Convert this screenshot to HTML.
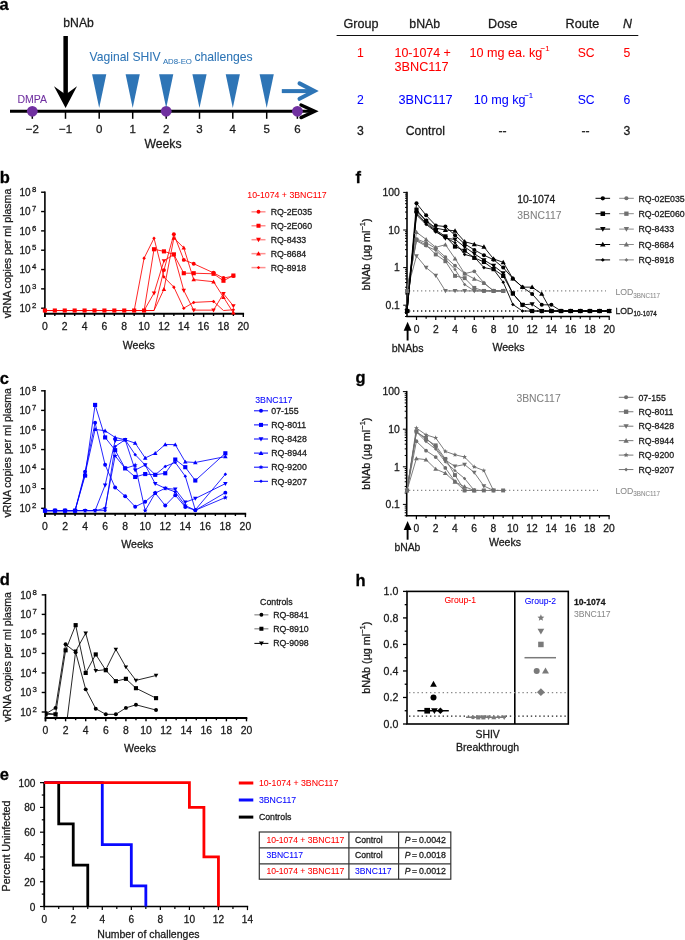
<!DOCTYPE html><html><head><meta charset="utf-8"><title>Figure</title><style>html,body{margin:0;padding:0;background:#fff;}svg{display:block;}text{font-family:"Liberation Sans",sans-serif;stroke:currentColor;stroke-width:0.28px;} .w{will-change:transform;width:685px;height:940px;}</style></head><body><div class="w">
<svg width="685" height="940" viewBox="0 0 685 940">
<rect x="0" y="0" width="685" height="940" fill="#fff"/>
<text x="-0.6" y="9.6" font-size="16.5" fill="#000000" color="#000000" font-weight="bold">a</text>
<line x1="10" y1="111.3" x2="313" y2="111.3" stroke="#000000" stroke-width="3"/>
<polyline points="301,105 314.6,111.3 301,117.6" fill="none" stroke="#000000" stroke-width="3.4" stroke-linecap="round" stroke-linejoin="miter"/>
<line x1="32.3" y1="111" x2="32.3" y2="118.8" stroke="#000000" stroke-width="1.5"/>
<text x="32.3" y="132.9" font-size="11.5" fill="#1a1a1a" color="#1a1a1a" text-anchor="middle">−2</text>
<line x1="65.5" y1="111" x2="65.5" y2="118.8" stroke="#000000" stroke-width="1.5"/>
<text x="65.5" y="132.9" font-size="11.5" fill="#1a1a1a" color="#1a1a1a" text-anchor="middle">−1</text>
<line x1="99.2" y1="111" x2="99.2" y2="118.8" stroke="#000000" stroke-width="1.5"/>
<text x="99.2" y="132.9" font-size="11.5" fill="#1a1a1a" color="#1a1a1a" text-anchor="middle">0</text>
<line x1="132.7" y1="111" x2="132.7" y2="118.8" stroke="#000000" stroke-width="1.5"/>
<text x="132.7" y="132.9" font-size="11.5" fill="#1a1a1a" color="#1a1a1a" text-anchor="middle">1</text>
<line x1="166.2" y1="111" x2="166.2" y2="118.8" stroke="#000000" stroke-width="1.5"/>
<text x="166.2" y="132.9" font-size="11.5" fill="#1a1a1a" color="#1a1a1a" text-anchor="middle">2</text>
<line x1="199.5" y1="111" x2="199.5" y2="118.8" stroke="#000000" stroke-width="1.5"/>
<text x="199.5" y="132.9" font-size="11.5" fill="#1a1a1a" color="#1a1a1a" text-anchor="middle">3</text>
<line x1="232.8" y1="111" x2="232.8" y2="118.8" stroke="#000000" stroke-width="1.5"/>
<text x="232.8" y="132.9" font-size="11.5" fill="#1a1a1a" color="#1a1a1a" text-anchor="middle">4</text>
<line x1="266.7" y1="111" x2="266.7" y2="118.8" stroke="#000000" stroke-width="1.5"/>
<text x="266.7" y="132.9" font-size="11.5" fill="#1a1a1a" color="#1a1a1a" text-anchor="middle">5</text>
<line x1="297.4" y1="111" x2="297.4" y2="118.8" stroke="#000000" stroke-width="1.5"/>
<text x="297.4" y="132.9" font-size="11.5" fill="#1a1a1a" color="#1a1a1a" text-anchor="middle">6</text>
<text x="163" y="147.8" font-size="12.2" fill="#1a1a1a" color="#1a1a1a" text-anchor="middle">Weeks</text>
<circle cx="32.3" cy="111.3" r="5.4" fill="#7030a0"/>
<circle cx="166.2" cy="111.3" r="5.4" fill="#7030a0"/>
<circle cx="297.4" cy="111.3" r="5.4" fill="#7030a0"/>
<text x="17.5" y="102.6" font-size="10.5" fill="#7030a0" color="#7030a0" style="stroke-width:0.06px">DMPA</text>
<rect x="63.4" y="36" width="4.5" height="62" fill="#000000"/>
<polygon points="54,86.3 65.6,94.6 77,86.3 65.6,108" fill="#000000"/>
<text x="63.3" y="26.8" font-size="12.2" fill="#1a1a1a" color="#1a1a1a">bNAb</text>
<polygon points="92.1,74.2 106.3,74.2 99.2,108" fill="#2e75b6"/>
<polygon points="125.6,74.2 139.8,74.2 132.7,108" fill="#2e75b6"/>
<polygon points="159.1,74.2 173.3,74.2 166.2,108" fill="#2e75b6"/>
<polygon points="192.4,74.2 206.6,74.2 199.5,108" fill="#2e75b6"/>
<polygon points="225.7,74.2 239.9,74.2 232.8,108" fill="#2e75b6"/>
<polygon points="259.6,74.2 273.8,74.2 266.7,108" fill="#2e75b6"/>
<line x1="281.8" y1="91.1" x2="312" y2="91.1" stroke="#2e75b6" stroke-width="4"/>
<polyline points="299.5,83.4 314.4,91.1 299.5,98.8" fill="none" stroke="#2e75b6" stroke-width="4" stroke-linecap="round" stroke-linejoin="miter"/>
<text x="89.6" y="60.7" font-size="12.1" fill="#2e75b6" color="#2e75b6" style="stroke-width:0.06px">Vaginal SHIV</text>
<text x="162.9" y="64.2" font-size="7.8" fill="#2e75b6" color="#2e75b6" style="stroke-width:0.06px">AD8-EO</text>
<text x="194.4" y="60.7" font-size="12.2" fill="#2e75b6" color="#2e75b6" style="stroke-width:0.06px">challenges</text>
<text x="343.4" y="27.7" font-size="12.6" fill="#1a1a1a" color="#1a1a1a">Group</text>
<text x="424.7" y="27.7" font-size="12.3" fill="#1a1a1a" color="#1a1a1a" text-anchor="middle">bNAb</text>
<text x="502.8" y="27.7" font-size="12.6" fill="#1a1a1a" color="#1a1a1a" text-anchor="middle">Dose</text>
<text x="582.4" y="27.7" font-size="12.6" fill="#1a1a1a" color="#1a1a1a" text-anchor="middle">Route</text>
<text x="627.6" y="27.7" font-size="12.4" fill="#1a1a1a" color="#1a1a1a" text-anchor="middle" font-style="italic">N</text>
<line x1="336.6" y1="35.5" x2="638.3" y2="35.5" stroke="#111" stroke-width="1"/>
<text x="360.5" y="56.5" font-size="12.2" fill="#ff0000" color="#ff0000" style="stroke-width:0.06px" text-anchor="middle">1</text>
<text x="394.5" y="56.5" font-size="12.45" fill="#ff0000" color="#ff0000" style="stroke-width:0.06px">10-1074 +</text>
<text x="394.5" y="71" font-size="12.7" fill="#ff0000" color="#ff0000" style="stroke-width:0.06px">3BNC117</text>
<text x="469.4" y="56.5" font-size="12.6" fill="#ff0000" color="#ff0000" style="stroke-width:0.06px">10 mg ea. kg</text>
<text x="540.6" y="51" font-size="7.8" fill="#ff0000" color="#ff0000" style="stroke-width:0.06px">−1</text>
<text x="586.2" y="56.5" font-size="12.2" fill="#ff0000" color="#ff0000" style="stroke-width:0.06px" text-anchor="middle">SC</text>
<text x="627" y="56.5" font-size="12.2" fill="#ff0000" color="#ff0000" style="stroke-width:0.06px" text-anchor="middle">5</text>
<text x="360.5" y="103.6" font-size="12.2" fill="#0000ff" color="#0000ff" style="stroke-width:0.06px" text-anchor="middle">2</text>
<text x="425.5" y="103.6" font-size="12.7" fill="#0000ff" color="#0000ff" style="stroke-width:0.06px" text-anchor="middle">3BNC117</text>
<text x="473.8" y="103.6" font-size="12.6" fill="#0000ff" color="#0000ff" style="stroke-width:0.06px">10 mg kg</text>
<text x="524.2" y="98.1" font-size="7.8" fill="#0000ff" color="#0000ff" style="stroke-width:0.06px">−1</text>
<text x="586.2" y="103.6" font-size="12.2" fill="#0000ff" color="#0000ff" style="stroke-width:0.06px" text-anchor="middle">SC</text>
<text x="627" y="103.6" font-size="12.2" fill="#0000ff" color="#0000ff" style="stroke-width:0.06px" text-anchor="middle">6</text>
<text x="360.5" y="134.9" font-size="12.2" fill="#1a1a1a" color="#1a1a1a" text-anchor="middle">3</text>
<text x="425.3" y="134.9" font-size="12.2" fill="#1a1a1a" color="#1a1a1a" text-anchor="middle">Control</text>
<text x="502.5" y="134.9" font-size="12.2" fill="#1a1a1a" color="#1a1a1a" text-anchor="middle">--</text>
<text x="585.5" y="134.9" font-size="12.2" fill="#1a1a1a" color="#1a1a1a" text-anchor="middle">--</text>
<text x="627" y="134.9" font-size="12.2" fill="#1a1a1a" color="#1a1a1a" text-anchor="middle">3</text>
<text x="-0.3" y="182.6" font-size="16.5" fill="#000000" color="#000000" font-weight="bold">b</text>
<line x1="44.9" y1="191.42" x2="44.9" y2="317.1" stroke="#000000" stroke-width="1.6"/>
<line x1="44.1" y1="313.8" x2="244.1" y2="313.8" stroke="#000000" stroke-width="1.9"/>
<line x1="41.1" y1="308.2" x2="44.9" y2="308.2" stroke="#000000" stroke-width="1.4"/>
<text x="30.7" y="312.1" font-size="10" fill="#1a1a1a" color="#1a1a1a" text-anchor="end">10</text>
<text x="32" y="307.9" font-size="7.8" fill="#1a1a1a" color="#1a1a1a">2</text>
<line x1="41.1" y1="288.87" x2="44.9" y2="288.87" stroke="#000000" stroke-width="1.4"/>
<text x="30.7" y="292.77" font-size="10" fill="#1a1a1a" color="#1a1a1a" text-anchor="end">10</text>
<text x="32" y="288.57" font-size="7.8" fill="#1a1a1a" color="#1a1a1a">3</text>
<line x1="41.1" y1="269.54" x2="44.9" y2="269.54" stroke="#000000" stroke-width="1.4"/>
<text x="30.7" y="273.44" font-size="10" fill="#1a1a1a" color="#1a1a1a" text-anchor="end">10</text>
<text x="32" y="269.24" font-size="7.8" fill="#1a1a1a" color="#1a1a1a">4</text>
<line x1="41.1" y1="250.21" x2="44.9" y2="250.21" stroke="#000000" stroke-width="1.4"/>
<text x="30.7" y="254.11" font-size="10" fill="#1a1a1a" color="#1a1a1a" text-anchor="end">10</text>
<text x="32" y="249.91" font-size="7.8" fill="#1a1a1a" color="#1a1a1a">5</text>
<line x1="41.1" y1="230.88" x2="44.9" y2="230.88" stroke="#000000" stroke-width="1.4"/>
<text x="30.7" y="234.78" font-size="10" fill="#1a1a1a" color="#1a1a1a" text-anchor="end">10</text>
<text x="32" y="230.58" font-size="7.8" fill="#1a1a1a" color="#1a1a1a">6</text>
<line x1="41.1" y1="211.55" x2="44.9" y2="211.55" stroke="#000000" stroke-width="1.4"/>
<text x="30.7" y="215.45" font-size="10" fill="#1a1a1a" color="#1a1a1a" text-anchor="end">10</text>
<text x="32" y="211.25" font-size="7.8" fill="#1a1a1a" color="#1a1a1a">7</text>
<line x1="41.1" y1="192.22" x2="44.9" y2="192.22" stroke="#000000" stroke-width="1.4"/>
<text x="30.7" y="196.12" font-size="10" fill="#1a1a1a" color="#1a1a1a" text-anchor="end">10</text>
<text x="32" y="191.92" font-size="7.8" fill="#1a1a1a" color="#1a1a1a">8</text>
<line x1="44.9" y1="313.8" x2="44.9" y2="317.1" stroke="#000000" stroke-width="1.4"/>
<text x="44.9" y="329.9" font-size="10.4" fill="#1a1a1a" color="#1a1a1a" text-anchor="middle">0</text>
<line x1="54.82" y1="313.8" x2="54.82" y2="316" stroke="#000000" stroke-width="1.4"/>
<line x1="64.74" y1="313.8" x2="64.74" y2="317.1" stroke="#000000" stroke-width="1.4"/>
<text x="64.74" y="329.9" font-size="10.4" fill="#1a1a1a" color="#1a1a1a" text-anchor="middle">2</text>
<line x1="74.66" y1="313.8" x2="74.66" y2="316" stroke="#000000" stroke-width="1.4"/>
<line x1="84.58" y1="313.8" x2="84.58" y2="317.1" stroke="#000000" stroke-width="1.4"/>
<text x="84.58" y="329.9" font-size="10.4" fill="#1a1a1a" color="#1a1a1a" text-anchor="middle">4</text>
<line x1="94.5" y1="313.8" x2="94.5" y2="316" stroke="#000000" stroke-width="1.4"/>
<line x1="104.42" y1="313.8" x2="104.42" y2="317.1" stroke="#000000" stroke-width="1.4"/>
<text x="104.42" y="329.9" font-size="10.4" fill="#1a1a1a" color="#1a1a1a" text-anchor="middle">6</text>
<line x1="114.34" y1="313.8" x2="114.34" y2="316" stroke="#000000" stroke-width="1.4"/>
<line x1="124.26" y1="313.8" x2="124.26" y2="317.1" stroke="#000000" stroke-width="1.4"/>
<text x="124.26" y="329.9" font-size="10.4" fill="#1a1a1a" color="#1a1a1a" text-anchor="middle">8</text>
<line x1="134.18" y1="313.8" x2="134.18" y2="316" stroke="#000000" stroke-width="1.4"/>
<line x1="144.1" y1="313.8" x2="144.1" y2="317.1" stroke="#000000" stroke-width="1.4"/>
<text x="144.1" y="329.9" font-size="10.4" fill="#1a1a1a" color="#1a1a1a" text-anchor="middle">10</text>
<line x1="154.02" y1="313.8" x2="154.02" y2="316" stroke="#000000" stroke-width="1.4"/>
<line x1="163.94" y1="313.8" x2="163.94" y2="317.1" stroke="#000000" stroke-width="1.4"/>
<text x="163.94" y="329.9" font-size="10.4" fill="#1a1a1a" color="#1a1a1a" text-anchor="middle">12</text>
<line x1="173.86" y1="313.8" x2="173.86" y2="316" stroke="#000000" stroke-width="1.4"/>
<line x1="183.78" y1="313.8" x2="183.78" y2="317.1" stroke="#000000" stroke-width="1.4"/>
<text x="183.78" y="329.9" font-size="10.4" fill="#1a1a1a" color="#1a1a1a" text-anchor="middle">14</text>
<line x1="193.7" y1="313.8" x2="193.7" y2="316" stroke="#000000" stroke-width="1.4"/>
<line x1="203.62" y1="313.8" x2="203.62" y2="317.1" stroke="#000000" stroke-width="1.4"/>
<text x="203.62" y="329.9" font-size="10.4" fill="#1a1a1a" color="#1a1a1a" text-anchor="middle">16</text>
<line x1="213.54" y1="313.8" x2="213.54" y2="316" stroke="#000000" stroke-width="1.4"/>
<line x1="223.46" y1="313.8" x2="223.46" y2="317.1" stroke="#000000" stroke-width="1.4"/>
<text x="223.46" y="329.9" font-size="10.4" fill="#1a1a1a" color="#1a1a1a" text-anchor="middle">18</text>
<line x1="233.38" y1="313.8" x2="233.38" y2="316" stroke="#000000" stroke-width="1.4"/>
<line x1="243.3" y1="313.8" x2="243.3" y2="317.1" stroke="#000000" stroke-width="1.4"/>
<text x="243.3" y="329.9" font-size="10.4" fill="#1a1a1a" color="#1a1a1a" text-anchor="middle">20</text>
<text x="138.8" y="349" font-size="10.6" fill="#1a1a1a" color="#1a1a1a" text-anchor="middle">Weeks</text>
<text transform="translate(10.9,253.51) rotate(-90)" font-size="10.55" fill="#1a1a1a" color="#1a1a1a" text-anchor="middle">vRNA copies per ml plasma</text>
<polyline points="44.9,310.52 54.82,310.52 64.74,310.52 74.66,310.52 84.58,310.52 94.5,310.52 104.42,310.52 114.34,310.52 124.26,310.52 134.18,310.52 144.1,310.52 154.02,310.52 163.94,270.12 173.86,234.17 183.78,259.88 193.7,263.74 213.54,272.83 223.46,278.05 233.38,276.11" fill="none" stroke="#ff0000" stroke-width="0.85"/>
<polyline points="44.9,310.52 54.82,310.52 64.74,310.52 74.66,310.52 84.58,310.52 94.5,310.52 104.42,310.52 114.34,310.52 124.26,310.52 134.18,310.52 144.1,310.52 154.02,249.24 163.94,251.37 173.86,254.46 183.78,273.21 193.7,273.21 213.54,273.79 223.46,280.75 233.38,275.53" fill="none" stroke="#ff0000" stroke-width="0.85"/>
<polyline points="44.9,310.52 54.82,310.52 64.74,310.52 74.66,310.52 84.58,310.52 94.5,310.52 104.42,310.52 114.34,310.52 124.26,310.52 134.18,310.52 144.1,310.52 154.02,293.12 163.94,260.84 173.86,254.46 183.78,290.42 193.7,310.13 213.54,310.13 223.46,293.7 233.38,305.88" fill="none" stroke="#ff0000" stroke-width="0.85"/>
<polyline points="44.9,310.52 54.82,310.52 64.74,310.52 74.66,310.52 84.58,310.52 94.5,310.52 104.42,310.52 114.34,310.52 124.26,310.52 134.18,310.52 144.1,310.52 154.02,310.52 163.94,289.26 173.86,238.03 183.78,247.89 193.7,279.59 213.54,281.72 223.46,297.18 233.38,312.84" fill="none" stroke="#ff0000" stroke-width="0.85"/>
<polyline points="44.9,310.52 54.82,310.52 64.74,310.52 74.66,310.52 84.58,310.52 94.5,310.52 104.42,310.52 114.34,310.52 124.26,310.52 134.18,310.52 144.1,258.14 154.02,238.23 163.94,277.08 173.86,287.13 183.78,308.2 193.7,302.4 213.54,301.43 223.46,310.52 233.38,309.75" fill="none" stroke="#ff0000" stroke-width="0.85"/>
<polygon points="151.75,291.42 156.29,291.42 154.02,295.39" fill="#ff0000"/>
<polygon points="161.67,259.14 166.21,259.14 163.94,263.11" fill="#ff0000"/>
<polygon points="171.59,252.76 176.13,252.76 173.86,256.73" fill="#ff0000"/>
<polygon points="181.51,288.72 186.05,288.72 183.78,292.68" fill="#ff0000"/>
<polygon points="191.43,308.43 195.97,308.43 193.7,312.4" fill="#ff0000"/>
<polygon points="211.27,308.43 215.81,308.43 213.54,312.4" fill="#ff0000"/>
<polygon points="221.19,292 225.73,292 223.46,295.97" fill="#ff0000"/>
<polygon points="231.11,304.18 235.65,304.18 233.38,308.15" fill="#ff0000"/>
<polygon points="161.67,290.96 166.21,290.96 163.94,286.99" fill="#ff0000"/>
<polygon points="171.59,239.73 176.13,239.73 173.86,235.76" fill="#ff0000"/>
<polygon points="181.51,249.59 186.05,249.59 183.78,245.62" fill="#ff0000"/>
<polygon points="191.43,281.29 195.97,281.29 193.7,277.32" fill="#ff0000"/>
<polygon points="211.27,283.42 215.81,283.42 213.54,279.45" fill="#ff0000"/>
<polygon points="221.19,298.88 225.73,298.88 223.46,294.91" fill="#ff0000"/>
<polygon points="231.11,314.54 235.65,314.54 233.38,310.57" fill="#ff0000"/>
<polygon points="144.1,256.37 145.86,258.14 144.1,259.9 142.34,258.14" fill="#ff0000"/>
<polygon points="154.02,236.46 155.78,238.23 154.02,239.99 152.26,238.23" fill="#ff0000"/>
<polygon points="163.94,275.31 165.7,277.08 163.94,278.84 162.18,277.08" fill="#ff0000"/>
<polygon points="173.86,285.37 175.62,287.13 173.86,288.89 172.1,287.13" fill="#ff0000"/>
<polygon points="183.78,306.44 185.54,308.2 183.78,309.96 182.02,308.2" fill="#ff0000"/>
<polygon points="193.7,300.64 195.46,302.4 193.7,304.17 191.94,302.4" fill="#ff0000"/>
<polygon points="213.54,299.67 215.3,301.43 213.54,303.2 211.78,301.43" fill="#ff0000"/>
<polygon points="233.38,307.98 235.14,309.75 233.38,311.51 231.62,309.75" fill="#ff0000"/>
<circle cx="163.94" cy="270.12" r="1.97" fill="#ff0000"/>
<circle cx="173.86" cy="234.17" r="1.97" fill="#ff0000"/>
<circle cx="183.78" cy="259.88" r="1.97" fill="#ff0000"/>
<circle cx="193.7" cy="263.74" r="1.97" fill="#ff0000"/>
<circle cx="213.54" cy="272.83" r="1.97" fill="#ff0000"/>
<circle cx="223.46" cy="278.05" r="1.97" fill="#ff0000"/>
<circle cx="233.38" cy="276.11" r="1.97" fill="#ff0000"/>
<rect x="42.84" y="308.46" width="4.12" height="4.12" fill="#ff0000"/>
<rect x="52.76" y="308.46" width="4.12" height="4.12" fill="#ff0000"/>
<rect x="62.68" y="308.46" width="4.12" height="4.12" fill="#ff0000"/>
<rect x="72.6" y="308.46" width="4.12" height="4.12" fill="#ff0000"/>
<rect x="82.52" y="308.46" width="4.12" height="4.12" fill="#ff0000"/>
<rect x="92.44" y="308.46" width="4.12" height="4.12" fill="#ff0000"/>
<rect x="102.36" y="308.46" width="4.12" height="4.12" fill="#ff0000"/>
<rect x="112.28" y="308.46" width="4.12" height="4.12" fill="#ff0000"/>
<rect x="122.2" y="308.46" width="4.12" height="4.12" fill="#ff0000"/>
<rect x="132.12" y="308.46" width="4.12" height="4.12" fill="#ff0000"/>
<rect x="142.04" y="308.46" width="4.12" height="4.12" fill="#ff0000"/>
<rect x="151.96" y="247.19" width="4.12" height="4.12" fill="#ff0000"/>
<rect x="161.88" y="249.31" width="4.12" height="4.12" fill="#ff0000"/>
<rect x="171.8" y="252.4" width="4.12" height="4.12" fill="#ff0000"/>
<rect x="181.72" y="271.15" width="4.12" height="4.12" fill="#ff0000"/>
<rect x="191.64" y="271.15" width="4.12" height="4.12" fill="#ff0000"/>
<rect x="211.48" y="271.73" width="4.12" height="4.12" fill="#ff0000"/>
<rect x="221.4" y="278.69" width="4.12" height="4.12" fill="#ff0000"/>
<rect x="231.32" y="273.47" width="4.12" height="4.12" fill="#ff0000"/>
<text x="247.3" y="197.8" font-size="8.75" fill="#ff0000" color="#ff0000" style="stroke-width:0.06px">10-1074 + 3BNC117</text>
<line x1="251.5" y1="211.8" x2="265.5" y2="211.8" stroke="#ff9090" stroke-width="1.5"/>
<circle cx="258.5" cy="211.8" r="1.93" fill="#ff0000"/>
<text x="270.7" y="215" font-size="8.75" fill="#1a1a1a" color="#1a1a1a">RQ-2E035</text>
<line x1="251.5" y1="225.75" x2="265.5" y2="225.75" stroke="#ff9090" stroke-width="1.5"/>
<rect x="256.49" y="223.74" width="4.02" height="4.02" fill="#ff0000"/>
<text x="270.7" y="228.95" font-size="8.75" fill="#1a1a1a" color="#1a1a1a">RQ-2E060</text>
<line x1="251.5" y1="239.7" x2="265.5" y2="239.7" stroke="#ff9090" stroke-width="1.5"/>
<polygon points="256.04,237.86 260.96,237.86 258.5,242.16" fill="#ff0000"/>
<text x="270.7" y="242.9" font-size="8.75" fill="#1a1a1a" color="#1a1a1a">RQ-8433</text>
<line x1="251.5" y1="253.65" x2="265.5" y2="253.65" stroke="#ff9090" stroke-width="1.5"/>
<polygon points="256.04,255.5 260.96,255.5 258.5,251.19" fill="#ff0000"/>
<text x="270.7" y="256.85" font-size="8.75" fill="#1a1a1a" color="#1a1a1a">RQ-8684</text>
<line x1="251.5" y1="267.6" x2="265.5" y2="267.6" stroke="#ff9090" stroke-width="1.5"/>
<polygon points="258.5,265.88 260.22,267.6 258.5,269.32 256.78,267.6" fill="#ff0000"/>
<text x="270.7" y="270.8" font-size="8.75" fill="#1a1a1a" color="#1a1a1a">RQ-8918</text>
<text x="-0.3" y="383.7" font-size="16.5" fill="#000000" color="#000000" font-weight="bold">c</text>
<line x1="44.9" y1="390.02" x2="44.9" y2="517.1" stroke="#000000" stroke-width="1.6"/>
<line x1="44.1" y1="513.8" x2="246.2" y2="513.8" stroke="#000000" stroke-width="1.9"/>
<line x1="41.1" y1="508.3" x2="44.9" y2="508.3" stroke="#000000" stroke-width="1.4"/>
<text x="30.7" y="512.2" font-size="10" fill="#1a1a1a" color="#1a1a1a" text-anchor="end">10</text>
<text x="32" y="508" font-size="7.8" fill="#1a1a1a" color="#1a1a1a">2</text>
<line x1="41.1" y1="488.72" x2="44.9" y2="488.72" stroke="#000000" stroke-width="1.4"/>
<text x="30.7" y="492.62" font-size="10" fill="#1a1a1a" color="#1a1a1a" text-anchor="end">10</text>
<text x="32" y="488.42" font-size="7.8" fill="#1a1a1a" color="#1a1a1a">3</text>
<line x1="41.1" y1="469.14" x2="44.9" y2="469.14" stroke="#000000" stroke-width="1.4"/>
<text x="30.7" y="473.04" font-size="10" fill="#1a1a1a" color="#1a1a1a" text-anchor="end">10</text>
<text x="32" y="468.84" font-size="7.8" fill="#1a1a1a" color="#1a1a1a">4</text>
<line x1="41.1" y1="449.56" x2="44.9" y2="449.56" stroke="#000000" stroke-width="1.4"/>
<text x="30.7" y="453.46" font-size="10" fill="#1a1a1a" color="#1a1a1a" text-anchor="end">10</text>
<text x="32" y="449.26" font-size="7.8" fill="#1a1a1a" color="#1a1a1a">5</text>
<line x1="41.1" y1="429.98" x2="44.9" y2="429.98" stroke="#000000" stroke-width="1.4"/>
<text x="30.7" y="433.88" font-size="10" fill="#1a1a1a" color="#1a1a1a" text-anchor="end">10</text>
<text x="32" y="429.68" font-size="7.8" fill="#1a1a1a" color="#1a1a1a">6</text>
<line x1="41.1" y1="410.4" x2="44.9" y2="410.4" stroke="#000000" stroke-width="1.4"/>
<text x="30.7" y="414.3" font-size="10" fill="#1a1a1a" color="#1a1a1a" text-anchor="end">10</text>
<text x="32" y="410.1" font-size="7.8" fill="#1a1a1a" color="#1a1a1a">7</text>
<line x1="41.1" y1="390.82" x2="44.9" y2="390.82" stroke="#000000" stroke-width="1.4"/>
<text x="30.7" y="394.72" font-size="10" fill="#1a1a1a" color="#1a1a1a" text-anchor="end">10</text>
<text x="32" y="390.52" font-size="7.8" fill="#1a1a1a" color="#1a1a1a">8</text>
<line x1="45" y1="513.8" x2="45" y2="517.1" stroke="#000000" stroke-width="1.4"/>
<text x="45" y="529.9" font-size="10.4" fill="#1a1a1a" color="#1a1a1a" text-anchor="middle">0</text>
<line x1="55.02" y1="513.8" x2="55.02" y2="516" stroke="#000000" stroke-width="1.4"/>
<line x1="65.04" y1="513.8" x2="65.04" y2="517.1" stroke="#000000" stroke-width="1.4"/>
<text x="65.04" y="529.9" font-size="10.4" fill="#1a1a1a" color="#1a1a1a" text-anchor="middle">2</text>
<line x1="75.06" y1="513.8" x2="75.06" y2="516" stroke="#000000" stroke-width="1.4"/>
<line x1="85.08" y1="513.8" x2="85.08" y2="517.1" stroke="#000000" stroke-width="1.4"/>
<text x="85.08" y="529.9" font-size="10.4" fill="#1a1a1a" color="#1a1a1a" text-anchor="middle">4</text>
<line x1="95.1" y1="513.8" x2="95.1" y2="516" stroke="#000000" stroke-width="1.4"/>
<line x1="105.12" y1="513.8" x2="105.12" y2="517.1" stroke="#000000" stroke-width="1.4"/>
<text x="105.12" y="529.9" font-size="10.4" fill="#1a1a1a" color="#1a1a1a" text-anchor="middle">6</text>
<line x1="115.14" y1="513.8" x2="115.14" y2="516" stroke="#000000" stroke-width="1.4"/>
<line x1="125.16" y1="513.8" x2="125.16" y2="517.1" stroke="#000000" stroke-width="1.4"/>
<text x="125.16" y="529.9" font-size="10.4" fill="#1a1a1a" color="#1a1a1a" text-anchor="middle">8</text>
<line x1="135.18" y1="513.8" x2="135.18" y2="516" stroke="#000000" stroke-width="1.4"/>
<line x1="145.2" y1="513.8" x2="145.2" y2="517.1" stroke="#000000" stroke-width="1.4"/>
<text x="145.2" y="529.9" font-size="10.4" fill="#1a1a1a" color="#1a1a1a" text-anchor="middle">10</text>
<line x1="155.22" y1="513.8" x2="155.22" y2="516" stroke="#000000" stroke-width="1.4"/>
<line x1="165.24" y1="513.8" x2="165.24" y2="517.1" stroke="#000000" stroke-width="1.4"/>
<text x="165.24" y="529.9" font-size="10.4" fill="#1a1a1a" color="#1a1a1a" text-anchor="middle">12</text>
<line x1="175.26" y1="513.8" x2="175.26" y2="516" stroke="#000000" stroke-width="1.4"/>
<line x1="185.28" y1="513.8" x2="185.28" y2="517.1" stroke="#000000" stroke-width="1.4"/>
<text x="185.28" y="529.9" font-size="10.4" fill="#1a1a1a" color="#1a1a1a" text-anchor="middle">14</text>
<line x1="195.3" y1="513.8" x2="195.3" y2="516" stroke="#000000" stroke-width="1.4"/>
<line x1="205.32" y1="513.8" x2="205.32" y2="517.1" stroke="#000000" stroke-width="1.4"/>
<text x="205.32" y="529.9" font-size="10.4" fill="#1a1a1a" color="#1a1a1a" text-anchor="middle">16</text>
<line x1="215.34" y1="513.8" x2="215.34" y2="516" stroke="#000000" stroke-width="1.4"/>
<line x1="225.36" y1="513.8" x2="225.36" y2="517.1" stroke="#000000" stroke-width="1.4"/>
<text x="225.36" y="529.9" font-size="10.4" fill="#1a1a1a" color="#1a1a1a" text-anchor="middle">18</text>
<line x1="235.38" y1="513.8" x2="235.38" y2="516" stroke="#000000" stroke-width="1.4"/>
<line x1="245.4" y1="513.8" x2="245.4" y2="517.1" stroke="#000000" stroke-width="1.4"/>
<text x="245.4" y="529.9" font-size="10.4" fill="#1a1a1a" color="#1a1a1a" text-anchor="middle">20</text>
<text x="137.3" y="547.6" font-size="10.6" fill="#1a1a1a" color="#1a1a1a" text-anchor="middle">Weeks</text>
<text transform="translate(10.9,452.81) rotate(-90)" font-size="10.55" fill="#1a1a1a" color="#1a1a1a" text-anchor="middle">vRNA copies per ml plasma</text>
<polyline points="45,510.65 55.02,510.65 65.04,510.65 75.06,510.65 85.08,471.69 95.1,422.74 105.12,464.83 115.14,487.55 125.16,496.16 135.18,506.73 145.2,501.84 155.22,493.03 165.24,505.56 175.26,495.18 185.28,506.93 195.3,510.26 225.36,492.64" fill="none" stroke="#0000ff" stroke-width="0.85"/>
<polyline points="45,510.65 55.02,510.65 65.04,510.65 75.06,510.65 85.08,475.6 95.1,404.92 105.12,437.42 115.14,450.15 125.16,468.36 135.18,476.97 145.2,474.04 155.22,474.82 165.24,473.25 175.26,459.55 185.28,467.18 195.3,480.5 225.36,453.28" fill="none" stroke="#0000ff" stroke-width="0.85"/>
<polyline points="45,510.65 55.02,510.65 65.04,510.65 75.06,510.65 85.08,510.65 95.1,510.65 105.12,485.2 115.14,440.75 125.16,439.77 135.18,470.12 145.2,465.03 155.22,483.63 165.24,488.33 175.26,489.31 185.28,502.23 195.3,498.51 225.36,483.63" fill="none" stroke="#0000ff" stroke-width="0.85"/>
<polyline points="45,510.65 55.02,510.65 65.04,510.65 75.06,510.65 85.08,474.04 95.1,429.39 105.12,430.76 115.14,437.42 125.16,439.77 135.18,443.1 145.2,457.98 155.22,453.28 165.24,444.47 175.26,444.67 185.28,461.9 195.3,462.48 225.36,456.61" fill="none" stroke="#0000ff" stroke-width="0.85"/>
<polyline points="45,510.65 55.02,510.65 65.04,510.65 75.06,510.65 85.08,510.65 95.1,510.65 105.12,508.3 115.14,455.83 125.16,468.36 135.18,465.22 145.2,510.65 155.22,493.03 165.24,488.33 175.26,491.85 185.28,505.56 195.3,510.26 225.36,497.53" fill="none" stroke="#0000ff" stroke-width="0.85"/>
<polyline points="45,510.65 55.02,510.65 65.04,510.65 75.06,510.65 85.08,510.65 95.1,510.65 105.12,510.65 115.14,446.43 125.16,439.77 135.18,454.65 145.2,465.03 155.22,474.82 165.24,466.4 175.26,462.48 185.28,476.19 195.3,509.87 225.36,474.23" fill="none" stroke="#0000ff" stroke-width="0.85"/>
<polygon points="42.73,508.95 47.27,508.95 45,512.92" fill="#0000ff"/>
<polygon points="52.75,508.95 57.29,508.95 55.02,512.92" fill="#0000ff"/>
<polygon points="62.77,508.95 67.31,508.95 65.04,512.92" fill="#0000ff"/>
<polygon points="72.79,508.95 77.33,508.95 75.06,512.92" fill="#0000ff"/>
<polygon points="82.81,508.95 87.35,508.95 85.08,512.92" fill="#0000ff"/>
<polygon points="92.83,508.95 97.37,508.95 95.1,512.92" fill="#0000ff"/>
<polygon points="102.85,483.49 107.39,483.49 105.12,487.46" fill="#0000ff"/>
<polygon points="112.87,439.05 117.41,439.05 115.14,443.02" fill="#0000ff"/>
<polygon points="122.89,438.07 127.43,438.07 125.16,442.04" fill="#0000ff"/>
<polygon points="132.91,468.42 137.45,468.42 135.18,472.39" fill="#0000ff"/>
<polygon points="142.93,463.33 147.47,463.33 145.2,467.3" fill="#0000ff"/>
<polygon points="152.95,481.93 157.49,481.93 155.22,485.9" fill="#0000ff"/>
<polygon points="162.97,486.63 167.51,486.63 165.24,490.6" fill="#0000ff"/>
<polygon points="172.99,487.61 177.53,487.61 175.26,491.58" fill="#0000ff"/>
<polygon points="183.01,500.53 187.55,500.53 185.28,504.5" fill="#0000ff"/>
<polygon points="193.03,496.81 197.57,496.81 195.3,500.78" fill="#0000ff"/>
<polygon points="223.09,481.93 227.63,481.93 225.36,485.9" fill="#0000ff"/>
<polygon points="42.73,512.35 47.27,512.35 45,508.38" fill="#0000ff"/>
<polygon points="52.75,512.35 57.29,512.35 55.02,508.38" fill="#0000ff"/>
<polygon points="62.77,512.35 67.31,512.35 65.04,508.38" fill="#0000ff"/>
<polygon points="72.79,512.35 77.33,512.35 75.06,508.38" fill="#0000ff"/>
<polygon points="82.81,475.74 87.35,475.74 85.08,471.77" fill="#0000ff"/>
<polygon points="92.83,431.09 97.37,431.09 95.1,427.12" fill="#0000ff"/>
<polygon points="102.85,432.46 107.39,432.46 105.12,428.5" fill="#0000ff"/>
<polygon points="112.87,439.12 117.41,439.12 115.14,435.15" fill="#0000ff"/>
<polygon points="122.89,441.47 127.43,441.47 125.16,437.5" fill="#0000ff"/>
<polygon points="132.91,444.8 137.45,444.8 135.18,440.83" fill="#0000ff"/>
<polygon points="142.93,459.68 147.47,459.68 145.2,455.71" fill="#0000ff"/>
<polygon points="152.95,454.98 157.49,454.98 155.22,451.01" fill="#0000ff"/>
<polygon points="162.97,446.17 167.51,446.17 165.24,442.2" fill="#0000ff"/>
<polygon points="172.99,446.37 177.53,446.37 175.26,442.4" fill="#0000ff"/>
<polygon points="183.01,463.6 187.55,463.6 185.28,459.63" fill="#0000ff"/>
<polygon points="193.03,464.18 197.57,464.18 195.3,460.21" fill="#0000ff"/>
<polygon points="223.09,458.31 227.63,458.31 225.36,454.34" fill="#0000ff"/>
<polygon points="45,508.05 45.69,509.7 47.48,509.84 46.11,511.01 46.53,512.76 45,511.82 43.47,512.76 43.89,511.01 42.52,509.84 44.31,509.7" fill="#0000ff"/>
<polygon points="55.02,508.05 55.71,509.7 57.5,509.84 56.13,511.01 56.55,512.76 55.02,511.82 53.49,512.76 53.91,511.01 52.54,509.84 54.33,509.7" fill="#0000ff"/>
<polygon points="65.04,508.05 65.73,509.7 67.52,509.84 66.15,511.01 66.57,512.76 65.04,511.82 63.51,512.76 63.93,511.01 62.56,509.84 64.35,509.7" fill="#0000ff"/>
<polygon points="75.06,508.05 75.75,509.7 77.54,509.84 76.17,511.01 76.59,512.76 75.06,511.82 73.53,512.76 73.95,511.01 72.58,509.84 74.37,509.7" fill="#0000ff"/>
<polygon points="85.08,508.05 85.77,509.7 87.56,509.84 86.19,511.01 86.61,512.76 85.08,511.82 83.55,512.76 83.97,511.01 82.6,509.84 84.39,509.7" fill="#0000ff"/>
<polygon points="95.1,508.05 95.79,509.7 97.58,509.84 96.21,511.01 96.63,512.76 95.1,511.82 93.57,512.76 93.99,511.01 92.62,509.84 94.41,509.7" fill="#0000ff"/>
<polygon points="105.12,505.7 105.81,507.35 107.6,507.5 106.23,508.66 106.65,510.41 105.12,509.47 103.59,510.41 104.01,508.66 102.64,507.5 104.43,507.35" fill="#0000ff"/>
<polygon points="115.14,453.22 115.83,454.88 117.62,455.02 116.25,456.19 116.67,457.93 115.14,457 113.61,457.93 114.03,456.19 112.66,455.02 114.45,454.88" fill="#0000ff"/>
<polygon points="125.16,465.75 125.85,467.41 127.64,467.55 126.27,468.72 126.69,470.46 125.16,469.53 123.63,470.46 124.05,468.72 122.68,467.55 124.47,467.41" fill="#0000ff"/>
<polygon points="135.18,462.62 135.87,464.28 137.66,464.42 136.29,465.59 136.71,467.33 135.18,466.4 133.65,467.33 134.07,465.59 132.7,464.42 134.49,464.28" fill="#0000ff"/>
<polygon points="145.2,508.05 145.89,509.7 147.68,509.84 146.31,511.01 146.73,512.76 145.2,511.82 143.67,512.76 144.09,511.01 142.72,509.84 144.51,509.7" fill="#0000ff"/>
<polygon points="155.22,490.42 155.91,492.08 157.7,492.22 156.33,493.39 156.75,495.13 155.22,494.2 153.69,495.13 154.11,493.39 152.74,492.22 154.53,492.08" fill="#0000ff"/>
<polygon points="165.24,485.72 165.93,487.38 167.72,487.52 166.35,488.69 166.77,490.44 165.24,489.5 163.71,490.44 164.13,488.69 162.76,487.52 164.55,487.38" fill="#0000ff"/>
<polygon points="175.26,489.25 175.95,490.9 177.74,491.05 176.37,492.21 176.79,493.96 175.26,493.02 173.73,493.96 174.15,492.21 172.78,491.05 174.57,490.9" fill="#0000ff"/>
<polygon points="185.28,502.95 185.97,504.61 187.76,504.75 186.39,505.92 186.81,507.67 185.28,506.73 183.75,507.67 184.17,505.92 182.8,504.75 184.59,504.61" fill="#0000ff"/>
<polygon points="195.3,507.65 195.99,509.31 197.78,509.45 196.41,510.62 196.83,512.36 195.3,511.43 193.77,512.36 194.19,510.62 192.82,509.45 194.61,509.31" fill="#0000ff"/>
<polygon points="225.36,494.93 226.05,496.58 227.84,496.73 226.47,497.89 226.89,499.64 225.36,498.7 223.83,499.64 224.25,497.89 222.88,496.73 224.67,496.58" fill="#0000ff"/>
<polygon points="45,508.89 46.76,510.65 45,512.41 43.24,510.65" fill="#0000ff"/>
<polygon points="55.02,508.89 56.78,510.65 55.02,512.41 53.26,510.65" fill="#0000ff"/>
<polygon points="65.04,508.89 66.8,510.65 65.04,512.41 63.28,510.65" fill="#0000ff"/>
<polygon points="75.06,508.89 76.82,510.65 75.06,512.41 73.3,510.65" fill="#0000ff"/>
<polygon points="85.08,508.89 86.84,510.65 85.08,512.41 83.32,510.65" fill="#0000ff"/>
<polygon points="95.1,508.89 96.86,510.65 95.1,512.41 93.34,510.65" fill="#0000ff"/>
<polygon points="105.12,508.89 106.88,510.65 105.12,512.41 103.36,510.65" fill="#0000ff"/>
<polygon points="115.14,444.66 116.9,446.43 115.14,448.19 113.38,446.43" fill="#0000ff"/>
<polygon points="125.16,438.01 126.92,439.77 125.16,441.53 123.4,439.77" fill="#0000ff"/>
<polygon points="135.18,452.89 136.94,454.65 135.18,456.41 133.42,454.65" fill="#0000ff"/>
<polygon points="145.2,463.26 146.96,465.03 145.2,466.79 143.44,465.03" fill="#0000ff"/>
<polygon points="155.22,473.05 156.98,474.82 155.22,476.58 153.46,474.82" fill="#0000ff"/>
<polygon points="165.24,464.63 167,466.4 165.24,468.16 163.48,466.4" fill="#0000ff"/>
<polygon points="175.26,460.72 177.02,462.48 175.26,464.25 173.5,462.48" fill="#0000ff"/>
<polygon points="185.28,474.42 187.04,476.19 185.28,477.95 183.52,476.19" fill="#0000ff"/>
<polygon points="195.3,508.1 197.06,509.87 195.3,511.63 193.54,509.87" fill="#0000ff"/>
<polygon points="225.36,472.47 227.12,474.23 225.36,475.99 223.6,474.23" fill="#0000ff"/>
<circle cx="45" cy="510.65" r="1.97" fill="#0000ff"/>
<circle cx="55.02" cy="510.65" r="1.97" fill="#0000ff"/>
<circle cx="65.04" cy="510.65" r="1.97" fill="#0000ff"/>
<circle cx="75.06" cy="510.65" r="1.97" fill="#0000ff"/>
<circle cx="85.08" cy="471.69" r="1.97" fill="#0000ff"/>
<circle cx="95.1" cy="422.74" r="1.97" fill="#0000ff"/>
<circle cx="105.12" cy="464.83" r="1.97" fill="#0000ff"/>
<circle cx="115.14" cy="487.55" r="1.97" fill="#0000ff"/>
<circle cx="125.16" cy="496.16" r="1.97" fill="#0000ff"/>
<circle cx="135.18" cy="506.73" r="1.97" fill="#0000ff"/>
<circle cx="145.2" cy="501.84" r="1.97" fill="#0000ff"/>
<circle cx="155.22" cy="493.03" r="1.97" fill="#0000ff"/>
<circle cx="165.24" cy="505.56" r="1.97" fill="#0000ff"/>
<circle cx="175.26" cy="495.18" r="1.97" fill="#0000ff"/>
<circle cx="185.28" cy="506.93" r="1.97" fill="#0000ff"/>
<circle cx="195.3" cy="510.26" r="1.97" fill="#0000ff"/>
<circle cx="225.36" cy="492.64" r="1.97" fill="#0000ff"/>
<rect x="42.94" y="508.59" width="4.12" height="4.12" fill="#0000ff"/>
<rect x="52.96" y="508.59" width="4.12" height="4.12" fill="#0000ff"/>
<rect x="62.98" y="508.59" width="4.12" height="4.12" fill="#0000ff"/>
<rect x="73" y="508.59" width="4.12" height="4.12" fill="#0000ff"/>
<rect x="83.02" y="473.54" width="4.12" height="4.12" fill="#0000ff"/>
<rect x="93.04" y="402.86" width="4.12" height="4.12" fill="#0000ff"/>
<rect x="103.06" y="435.36" width="4.12" height="4.12" fill="#0000ff"/>
<rect x="113.08" y="448.09" width="4.12" height="4.12" fill="#0000ff"/>
<rect x="123.1" y="466.3" width="4.12" height="4.12" fill="#0000ff"/>
<rect x="133.12" y="474.91" width="4.12" height="4.12" fill="#0000ff"/>
<rect x="143.14" y="471.98" width="4.12" height="4.12" fill="#0000ff"/>
<rect x="153.16" y="472.76" width="4.12" height="4.12" fill="#0000ff"/>
<rect x="163.18" y="471.19" width="4.12" height="4.12" fill="#0000ff"/>
<rect x="173.2" y="457.49" width="4.12" height="4.12" fill="#0000ff"/>
<rect x="183.22" y="465.12" width="4.12" height="4.12" fill="#0000ff"/>
<rect x="193.24" y="478.44" width="4.12" height="4.12" fill="#0000ff"/>
<rect x="223.3" y="451.22" width="4.12" height="4.12" fill="#0000ff"/>
<text x="255.2" y="402.5" font-size="8.75" fill="#0000ff" color="#0000ff" style="stroke-width:0.06px">3BNC117</text>
<line x1="254" y1="410.8" x2="268" y2="410.8" stroke="#0000ff" stroke-width="1"/>
<circle cx="261" cy="410.8" r="1.93" fill="#0000ff"/>
<text x="271.3" y="414" font-size="8.75" fill="#1a1a1a" color="#1a1a1a">07-155</text>
<line x1="254" y1="424.9" x2="268" y2="424.9" stroke="#0000ff" stroke-width="1"/>
<rect x="258.99" y="422.89" width="4.02" height="4.02" fill="#0000ff"/>
<text x="271.3" y="428.1" font-size="8.75" fill="#1a1a1a" color="#1a1a1a">RQ-8011</text>
<line x1="254" y1="439" x2="268" y2="439" stroke="#0000ff" stroke-width="1"/>
<polygon points="258.54,437.15 263.46,437.15 261,441.46" fill="#0000ff"/>
<text x="271.3" y="442.2" font-size="8.75" fill="#1a1a1a" color="#1a1a1a">RQ-8428</text>
<line x1="254" y1="453.1" x2="268" y2="453.1" stroke="#0000ff" stroke-width="1"/>
<polygon points="258.54,454.95 263.46,454.95 261,450.64" fill="#0000ff"/>
<text x="271.3" y="456.3" font-size="8.75" fill="#1a1a1a" color="#1a1a1a">RQ-8944</text>
<line x1="254" y1="467.2" x2="268" y2="467.2" stroke="#0000ff" stroke-width="1"/>
<polygon points="261,464.66 261.67,466.27 263.42,466.41 262.09,467.55 262.49,469.26 261,468.34 259.51,469.26 259.91,467.55 258.58,466.41 260.33,466.27" fill="#0000ff"/>
<text x="271.3" y="470.4" font-size="8.75" fill="#1a1a1a" color="#1a1a1a">RQ-9200</text>
<line x1="254" y1="481.3" x2="268" y2="481.3" stroke="#0000ff" stroke-width="1"/>
<polygon points="261,479.58 262.72,481.3 261,483.02 259.28,481.3" fill="#0000ff"/>
<text x="271.3" y="484.5" font-size="8.75" fill="#1a1a1a" color="#1a1a1a">RQ-9207</text>
<text x="-0.3" y="585.4" font-size="16.5" fill="#000000" color="#000000" font-weight="bold">d</text>
<line x1="45.5" y1="594.08" x2="45.5" y2="721.3" stroke="#000000" stroke-width="1.6"/>
<line x1="44.7" y1="718" x2="247.3" y2="718" stroke="#000000" stroke-width="1.9"/>
<line x1="41.7" y1="712" x2="45.5" y2="712" stroke="#000000" stroke-width="1.4"/>
<text x="31.3" y="715.9" font-size="10" fill="#1a1a1a" color="#1a1a1a" text-anchor="end">10</text>
<text x="32.6" y="711.7" font-size="7.8" fill="#1a1a1a" color="#1a1a1a">2</text>
<line x1="41.7" y1="692.48" x2="45.5" y2="692.48" stroke="#000000" stroke-width="1.4"/>
<text x="31.3" y="696.38" font-size="10" fill="#1a1a1a" color="#1a1a1a" text-anchor="end">10</text>
<text x="32.6" y="692.18" font-size="7.8" fill="#1a1a1a" color="#1a1a1a">3</text>
<line x1="41.7" y1="672.96" x2="45.5" y2="672.96" stroke="#000000" stroke-width="1.4"/>
<text x="31.3" y="676.86" font-size="10" fill="#1a1a1a" color="#1a1a1a" text-anchor="end">10</text>
<text x="32.6" y="672.66" font-size="7.8" fill="#1a1a1a" color="#1a1a1a">4</text>
<line x1="41.7" y1="653.44" x2="45.5" y2="653.44" stroke="#000000" stroke-width="1.4"/>
<text x="31.3" y="657.34" font-size="10" fill="#1a1a1a" color="#1a1a1a" text-anchor="end">10</text>
<text x="32.6" y="653.14" font-size="7.8" fill="#1a1a1a" color="#1a1a1a">5</text>
<line x1="41.7" y1="633.92" x2="45.5" y2="633.92" stroke="#000000" stroke-width="1.4"/>
<text x="31.3" y="637.82" font-size="10" fill="#1a1a1a" color="#1a1a1a" text-anchor="end">10</text>
<text x="32.6" y="633.62" font-size="7.8" fill="#1a1a1a" color="#1a1a1a">6</text>
<line x1="41.7" y1="614.4" x2="45.5" y2="614.4" stroke="#000000" stroke-width="1.4"/>
<text x="31.3" y="618.3" font-size="10" fill="#1a1a1a" color="#1a1a1a" text-anchor="end">10</text>
<text x="32.6" y="614.1" font-size="7.8" fill="#1a1a1a" color="#1a1a1a">7</text>
<line x1="41.7" y1="594.88" x2="45.5" y2="594.88" stroke="#000000" stroke-width="1.4"/>
<text x="31.3" y="598.78" font-size="10" fill="#1a1a1a" color="#1a1a1a" text-anchor="end">10</text>
<text x="32.6" y="594.58" font-size="7.8" fill="#1a1a1a" color="#1a1a1a">8</text>
<line x1="45.5" y1="718" x2="45.5" y2="721.3" stroke="#000000" stroke-width="1.4"/>
<text x="45.5" y="734.1" font-size="10.4" fill="#1a1a1a" color="#1a1a1a" text-anchor="middle">0</text>
<line x1="55.55" y1="718" x2="55.55" y2="720.2" stroke="#000000" stroke-width="1.4"/>
<line x1="65.6" y1="718" x2="65.6" y2="721.3" stroke="#000000" stroke-width="1.4"/>
<text x="65.6" y="734.1" font-size="10.4" fill="#1a1a1a" color="#1a1a1a" text-anchor="middle">2</text>
<line x1="75.65" y1="718" x2="75.65" y2="720.2" stroke="#000000" stroke-width="1.4"/>
<line x1="85.7" y1="718" x2="85.7" y2="721.3" stroke="#000000" stroke-width="1.4"/>
<text x="85.7" y="734.1" font-size="10.4" fill="#1a1a1a" color="#1a1a1a" text-anchor="middle">4</text>
<line x1="95.75" y1="718" x2="95.75" y2="720.2" stroke="#000000" stroke-width="1.4"/>
<line x1="105.8" y1="718" x2="105.8" y2="721.3" stroke="#000000" stroke-width="1.4"/>
<text x="105.8" y="734.1" font-size="10.4" fill="#1a1a1a" color="#1a1a1a" text-anchor="middle">6</text>
<line x1="115.85" y1="718" x2="115.85" y2="720.2" stroke="#000000" stroke-width="1.4"/>
<line x1="125.9" y1="718" x2="125.9" y2="721.3" stroke="#000000" stroke-width="1.4"/>
<text x="125.9" y="734.1" font-size="10.4" fill="#1a1a1a" color="#1a1a1a" text-anchor="middle">8</text>
<line x1="135.95" y1="718" x2="135.95" y2="720.2" stroke="#000000" stroke-width="1.4"/>
<line x1="146" y1="718" x2="146" y2="721.3" stroke="#000000" stroke-width="1.4"/>
<text x="146" y="734.1" font-size="10.4" fill="#1a1a1a" color="#1a1a1a" text-anchor="middle">10</text>
<line x1="156.05" y1="718" x2="156.05" y2="720.2" stroke="#000000" stroke-width="1.4"/>
<line x1="166.1" y1="718" x2="166.1" y2="721.3" stroke="#000000" stroke-width="1.4"/>
<text x="166.1" y="734.1" font-size="10.4" fill="#1a1a1a" color="#1a1a1a" text-anchor="middle">12</text>
<line x1="176.15" y1="718" x2="176.15" y2="720.2" stroke="#000000" stroke-width="1.4"/>
<line x1="186.2" y1="718" x2="186.2" y2="721.3" stroke="#000000" stroke-width="1.4"/>
<text x="186.2" y="734.1" font-size="10.4" fill="#1a1a1a" color="#1a1a1a" text-anchor="middle">14</text>
<line x1="196.25" y1="718" x2="196.25" y2="720.2" stroke="#000000" stroke-width="1.4"/>
<line x1="206.3" y1="718" x2="206.3" y2="721.3" stroke="#000000" stroke-width="1.4"/>
<text x="206.3" y="734.1" font-size="10.4" fill="#1a1a1a" color="#1a1a1a" text-anchor="middle">16</text>
<line x1="216.35" y1="718" x2="216.35" y2="720.2" stroke="#000000" stroke-width="1.4"/>
<line x1="226.4" y1="718" x2="226.4" y2="721.3" stroke="#000000" stroke-width="1.4"/>
<text x="226.4" y="734.1" font-size="10.4" fill="#1a1a1a" color="#1a1a1a" text-anchor="middle">18</text>
<line x1="236.45" y1="718" x2="236.45" y2="720.2" stroke="#000000" stroke-width="1.4"/>
<line x1="246.5" y1="718" x2="246.5" y2="721.3" stroke="#000000" stroke-width="1.4"/>
<text x="246.5" y="734.1" font-size="10.4" fill="#1a1a1a" color="#1a1a1a" text-anchor="middle">20</text>
<text x="140" y="751.6" font-size="10.6" fill="#1a1a1a" color="#1a1a1a" text-anchor="middle">Weeks</text>
<text transform="translate(10.9,656.94) rotate(-90)" font-size="10.55" fill="#1a1a1a" color="#1a1a1a" text-anchor="middle">vRNA copies per ml plasma</text>
<clipPath id="clipd"><rect x="45.5" y="584.88" width="206" height="132.12"/></clipPath>
<g clip-path="url(#clipd)">
<polyline points="45.5,713.95 55.55,707.9 65.6,644.27 75.65,652.27 85.7,689.36 95.75,708.68 105.8,714.34 115.85,714.34 125.9,707.9 135.95,704.78 156.05,710.05" fill="none" stroke="#000000" stroke-width="0.85"/>
<polyline points="45.5,714.34 55.55,714.34 65.6,650.32 75.65,625.14 85.7,672.96 95.75,654.42 105.8,670.23 115.85,681.16 125.9,678.82 135.95,688.19 156.05,698.14" fill="none" stroke="#000000" stroke-width="0.85"/>
<polyline points="45.5,712.98 55.55,714.34 65.6,731.52 75.65,651.29 85.7,633.14 95.75,670.81 105.8,669.64 115.85,649.34 125.9,667.1 135.95,680.38 156.05,675.5" fill="none" stroke="#000000" stroke-width="0.85"/>
<polygon points="43.23,711.27 47.77,711.27 45.5,715.24" fill="#000000"/>
<polygon points="53.28,712.64 57.82,712.64 55.55,716.61" fill="#000000"/>
<polygon points="73.38,649.59 77.92,649.59 75.65,653.56" fill="#000000"/>
<polygon points="83.43,631.44 87.97,631.44 85.7,635.41" fill="#000000"/>
<polygon points="93.48,669.11 98.02,669.11 95.75,673.08" fill="#000000"/>
<polygon points="103.53,667.94 108.07,667.94 105.8,671.91" fill="#000000"/>
<polygon points="113.58,647.64 118.12,647.64 115.85,651.61" fill="#000000"/>
<polygon points="123.63,665.4 128.17,665.4 125.9,669.37" fill="#000000"/>
<polygon points="133.68,678.68 138.22,678.68 135.95,682.65" fill="#000000"/>
<polygon points="153.78,673.8 158.32,673.8 156.05,677.77" fill="#000000"/>
<circle cx="45.5" cy="713.95" r="1.97" fill="#000000"/>
<circle cx="55.55" cy="707.9" r="1.97" fill="#000000"/>
<circle cx="65.6" cy="644.27" r="1.97" fill="#000000"/>
<circle cx="75.65" cy="652.27" r="1.97" fill="#000000"/>
<circle cx="85.7" cy="689.36" r="1.97" fill="#000000"/>
<circle cx="95.75" cy="708.68" r="1.97" fill="#000000"/>
<circle cx="105.8" cy="714.34" r="1.97" fill="#000000"/>
<circle cx="115.85" cy="714.34" r="1.97" fill="#000000"/>
<circle cx="125.9" cy="707.9" r="1.97" fill="#000000"/>
<circle cx="135.95" cy="704.78" r="1.97" fill="#000000"/>
<circle cx="156.05" cy="710.05" r="1.97" fill="#000000"/>
<rect x="43.44" y="712.28" width="4.12" height="4.12" fill="#000000"/>
<rect x="53.49" y="712.28" width="4.12" height="4.12" fill="#000000"/>
<rect x="63.54" y="648.26" width="4.12" height="4.12" fill="#000000"/>
<rect x="73.59" y="623.08" width="4.12" height="4.12" fill="#000000"/>
<rect x="83.64" y="670.9" width="4.12" height="4.12" fill="#000000"/>
<rect x="93.69" y="652.36" width="4.12" height="4.12" fill="#000000"/>
<rect x="103.74" y="668.17" width="4.12" height="4.12" fill="#000000"/>
<rect x="113.79" y="679.1" width="4.12" height="4.12" fill="#000000"/>
<rect x="123.84" y="676.76" width="4.12" height="4.12" fill="#000000"/>
<rect x="133.89" y="686.13" width="4.12" height="4.12" fill="#000000"/>
<rect x="153.99" y="696.08" width="4.12" height="4.12" fill="#000000"/>
</g>
<text x="260.1" y="604.5" font-size="8.75" fill="#1a1a1a" color="#1a1a1a">Controls</text>
<line x1="254.4" y1="614.8" x2="268.4" y2="614.8" stroke="#a0a0a0" stroke-width="1.5"/>
<circle cx="261.4" cy="614.8" r="1.93" fill="#000000"/>
<text x="273.2" y="618" font-size="8.75" fill="#1a1a1a" color="#1a1a1a">RQ-8841</text>
<line x1="254.4" y1="628.75" x2="268.4" y2="628.75" stroke="#a0a0a0" stroke-width="1.5"/>
<rect x="259.39" y="626.74" width="4.02" height="4.02" fill="#000000"/>
<text x="273.2" y="631.95" font-size="8.75" fill="#1a1a1a" color="#1a1a1a">RQ-8910</text>
<line x1="254.4" y1="643.4" x2="268.4" y2="643.4" stroke="#000000" stroke-width="1"/>
<polygon points="258.94,641.55 263.86,641.55 261.4,645.86" fill="#000000"/>
<text x="273.2" y="645.9" font-size="8.75" fill="#1a1a1a" color="#1a1a1a">RQ-9098</text>
<text x="-0.3" y="779.7" font-size="16.5" fill="#000000" color="#000000" font-weight="bold">e</text>
<line x1="44.2" y1="781.95" x2="44.2" y2="907.1" stroke="#000000" stroke-width="1.9"/>
<line x1="43.5" y1="906.5" x2="248.18" y2="906.5" stroke="#000000" stroke-width="1.5"/>
<line x1="40" y1="906.5" x2="44.2" y2="906.5" stroke="#000000" stroke-width="1.2"/>
<text x="35.4" y="910.5" font-size="10.1" fill="#1a1a1a" color="#1a1a1a" text-anchor="end">0</text>
<line x1="41.8" y1="894.12" x2="44.2" y2="894.12" stroke="#000000" stroke-width="1.2"/>
<line x1="40" y1="881.73" x2="44.2" y2="881.73" stroke="#000000" stroke-width="1.2"/>
<text x="35.4" y="885.73" font-size="10.1" fill="#1a1a1a" color="#1a1a1a" text-anchor="end">20</text>
<line x1="41.8" y1="869.35" x2="44.2" y2="869.35" stroke="#000000" stroke-width="1.2"/>
<line x1="40" y1="856.96" x2="44.2" y2="856.96" stroke="#000000" stroke-width="1.2"/>
<text x="35.4" y="860.96" font-size="10.1" fill="#1a1a1a" color="#1a1a1a" text-anchor="end">40</text>
<line x1="41.8" y1="844.58" x2="44.2" y2="844.58" stroke="#000000" stroke-width="1.2"/>
<line x1="40" y1="832.19" x2="44.2" y2="832.19" stroke="#000000" stroke-width="1.2"/>
<text x="35.4" y="836.19" font-size="10.1" fill="#1a1a1a" color="#1a1a1a" text-anchor="end">60</text>
<line x1="41.8" y1="819.81" x2="44.2" y2="819.81" stroke="#000000" stroke-width="1.2"/>
<line x1="40" y1="807.42" x2="44.2" y2="807.42" stroke="#000000" stroke-width="1.2"/>
<text x="35.4" y="811.42" font-size="10.1" fill="#1a1a1a" color="#1a1a1a" text-anchor="end">80</text>
<line x1="41.8" y1="795.03" x2="44.2" y2="795.03" stroke="#000000" stroke-width="1.2"/>
<line x1="40" y1="782.65" x2="44.2" y2="782.65" stroke="#000000" stroke-width="1.2"/>
<text x="35.4" y="786.65" font-size="10.1" fill="#1a1a1a" color="#1a1a1a" text-anchor="end">100</text>
<line x1="44.2" y1="906.5" x2="44.2" y2="910.1" stroke="#000000" stroke-width="1.2"/>
<text x="44.2" y="922.6" font-size="10.1" fill="#1a1a1a" color="#1a1a1a" text-anchor="middle">0</text>
<line x1="58.72" y1="906.5" x2="58.72" y2="908.9" stroke="#000000" stroke-width="1.2"/>
<line x1="73.24" y1="906.5" x2="73.24" y2="910.1" stroke="#000000" stroke-width="1.2"/>
<text x="73.24" y="922.6" font-size="10.1" fill="#1a1a1a" color="#1a1a1a" text-anchor="middle">2</text>
<line x1="87.76" y1="906.5" x2="87.76" y2="908.9" stroke="#000000" stroke-width="1.2"/>
<line x1="102.28" y1="906.5" x2="102.28" y2="910.1" stroke="#000000" stroke-width="1.2"/>
<text x="102.28" y="922.6" font-size="10.1" fill="#1a1a1a" color="#1a1a1a" text-anchor="middle">4</text>
<line x1="116.8" y1="906.5" x2="116.8" y2="908.9" stroke="#000000" stroke-width="1.2"/>
<line x1="131.32" y1="906.5" x2="131.32" y2="910.1" stroke="#000000" stroke-width="1.2"/>
<text x="131.32" y="922.6" font-size="10.1" fill="#1a1a1a" color="#1a1a1a" text-anchor="middle">6</text>
<line x1="145.84" y1="906.5" x2="145.84" y2="908.9" stroke="#000000" stroke-width="1.2"/>
<line x1="160.36" y1="906.5" x2="160.36" y2="910.1" stroke="#000000" stroke-width="1.2"/>
<text x="160.36" y="922.6" font-size="10.1" fill="#1a1a1a" color="#1a1a1a" text-anchor="middle">8</text>
<line x1="174.88" y1="906.5" x2="174.88" y2="908.9" stroke="#000000" stroke-width="1.2"/>
<line x1="189.4" y1="906.5" x2="189.4" y2="910.1" stroke="#000000" stroke-width="1.2"/>
<text x="189.4" y="922.6" font-size="10.1" fill="#1a1a1a" color="#1a1a1a" text-anchor="middle">10</text>
<line x1="203.92" y1="906.5" x2="203.92" y2="908.9" stroke="#000000" stroke-width="1.2"/>
<line x1="218.44" y1="906.5" x2="218.44" y2="910.1" stroke="#000000" stroke-width="1.2"/>
<text x="218.44" y="922.6" font-size="10.1" fill="#1a1a1a" color="#1a1a1a" text-anchor="middle">12</text>
<line x1="232.96" y1="906.5" x2="232.96" y2="908.9" stroke="#000000" stroke-width="1.2"/>
<line x1="247.48" y1="906.5" x2="247.48" y2="910.1" stroke="#000000" stroke-width="1.2"/>
<text x="247.48" y="922.6" font-size="10.1" fill="#1a1a1a" color="#1a1a1a" text-anchor="middle">14</text>
<text x="148.4" y="937.8" font-size="10.5" fill="#1a1a1a" color="#1a1a1a" text-anchor="middle">Number of challenges</text>
<text transform="translate(9.9,846) rotate(-90)" font-size="10.7" fill="#1a1a1a" color="#1a1a1a" text-anchor="middle">Percent Uninfected</text>
<polyline points="44.2,782.65 58.72,782.65 58.72,823.93 73.24,823.93 73.24,865.22 87.76,865.22 87.76,906.5" fill="none" stroke="#000000" stroke-width="2.8" stroke-linejoin="miter"/>
<polyline points="44.2,782.65 102.28,782.65 102.28,844.58 131.32,844.58 131.32,885.85 145.84,885.85 145.84,906.5" fill="none" stroke="#0a0aff" stroke-width="2.8" stroke-linejoin="miter"/>
<polyline points="44.2,782.65 189.4,782.65 189.4,807.42 203.92,807.42 203.92,856.96 218.44,856.96 218.44,906.5" fill="none" stroke="#ff0000" stroke-width="2.8" stroke-linejoin="miter"/>
<line x1="238.8" y1="783" x2="253.3" y2="783" stroke="#ff0000" stroke-width="3"/>
<text x="258.9" y="785.9" font-size="8.75" fill="#ff0000" color="#ff0000" style="stroke-width:0.06px">10-1074 + 3BNC117</text>
<line x1="238.8" y1="800" x2="253.3" y2="800" stroke="#0a0aff" stroke-width="3"/>
<text x="258.9" y="803.1" font-size="8.75" fill="#0000ff" color="#0000ff" style="stroke-width:0.06px">3BNC117</text>
<line x1="238.8" y1="817.1" x2="253.3" y2="817.1" stroke="#000000" stroke-width="3"/>
<text x="258.9" y="820.1" font-size="8.75" fill="#1a1a1a" color="#1a1a1a">Controls</text>
<rect x="259.3" y="832" width="191.5" height="47.2" fill="none" stroke="#333" stroke-width="1.2"/>
<line x1="259.3" y1="847.9" x2="450.8" y2="847.9" stroke="#333" stroke-width="1.2"/>
<line x1="259.3" y1="863.8" x2="450.8" y2="863.8" stroke="#333" stroke-width="1.2"/>
<line x1="348.9" y1="832" x2="348.9" y2="879.2" stroke="#333" stroke-width="1.2"/>
<line x1="398.6" y1="832" x2="398.6" y2="879.2" stroke="#333" stroke-width="1.2"/>
<text x="266.4" y="842.8" font-size="8.6" fill="#ff0000" color="#ff0000" style="stroke-width:0.06px">10-1074 + 3BNC117</text>
<text x="355" y="842.8" font-size="8.6" fill="#1a1a1a" color="#1a1a1a">Control</text>
<text x="404.8" y="842.8" font-size="8.6" fill="#1a1a1a" color="#1a1a1a" font-style="italic">P</text>
<text x="412" y="842.8" font-size="8.6" fill="#1a1a1a" color="#1a1a1a">=</text>
<text x="419" y="842.8" font-size="8.8" fill="#1a1a1a" color="#1a1a1a">0.0042</text>
<text x="266.4" y="858.4" font-size="8.6" fill="#0000ff" color="#0000ff" style="stroke-width:0.06px">3BNC117</text>
<text x="355" y="858.4" font-size="8.6" fill="#1a1a1a" color="#1a1a1a">Control</text>
<text x="404.8" y="858.4" font-size="8.6" fill="#1a1a1a" color="#1a1a1a" font-style="italic">P</text>
<text x="412" y="858.4" font-size="8.6" fill="#1a1a1a" color="#1a1a1a">=</text>
<text x="419" y="858.4" font-size="8.8" fill="#1a1a1a" color="#1a1a1a">0.0018</text>
<text x="266.4" y="874" font-size="8.6" fill="#ff0000" color="#ff0000" style="stroke-width:0.06px">10-1074 + 3BNC117</text>
<text x="355" y="874" font-size="8.6" fill="#0000ff" color="#0000ff" style="stroke-width:0.06px">3BNC117</text>
<text x="404.8" y="874" font-size="8.6" fill="#1a1a1a" color="#1a1a1a" font-style="italic">P</text>
<text x="412" y="874" font-size="8.6" fill="#1a1a1a" color="#1a1a1a">=</text>
<text x="419" y="874" font-size="8.8" fill="#1a1a1a" color="#1a1a1a">0.0012</text>
<text x="355.4" y="182.9" font-size="16.5" fill="#000000" color="#000000" font-weight="bold">f</text>
<line x1="407" y1="191.7" x2="407" y2="317.1" stroke="#000000" stroke-width="1.6"/>
<line x1="406.3" y1="316.5" x2="609.8" y2="316.5" stroke="#000000" stroke-width="1.5"/>
<line x1="405" y1="316.52" x2="407" y2="316.52" stroke="#000000" stroke-width="1"/>
<line x1="405" y1="313.54" x2="407" y2="313.54" stroke="#000000" stroke-width="1"/>
<line x1="405" y1="311.02" x2="407" y2="311.02" stroke="#000000" stroke-width="1"/>
<line x1="405" y1="308.84" x2="407" y2="308.84" stroke="#000000" stroke-width="1"/>
<line x1="405" y1="306.92" x2="407" y2="306.92" stroke="#000000" stroke-width="1"/>
<line x1="403.2" y1="305.2" x2="407" y2="305.2" stroke="#000000" stroke-width="1"/>
<line x1="405" y1="293.88" x2="407" y2="293.88" stroke="#000000" stroke-width="1"/>
<line x1="405" y1="287.26" x2="407" y2="287.26" stroke="#000000" stroke-width="1"/>
<line x1="405" y1="282.56" x2="407" y2="282.56" stroke="#000000" stroke-width="1"/>
<line x1="405" y1="278.92" x2="407" y2="278.92" stroke="#000000" stroke-width="1"/>
<line x1="405" y1="275.94" x2="407" y2="275.94" stroke="#000000" stroke-width="1"/>
<line x1="405" y1="273.42" x2="407" y2="273.42" stroke="#000000" stroke-width="1"/>
<line x1="405" y1="271.24" x2="407" y2="271.24" stroke="#000000" stroke-width="1"/>
<line x1="405" y1="269.32" x2="407" y2="269.32" stroke="#000000" stroke-width="1"/>
<line x1="403.2" y1="267.6" x2="407" y2="267.6" stroke="#000000" stroke-width="1"/>
<line x1="405" y1="256.28" x2="407" y2="256.28" stroke="#000000" stroke-width="1"/>
<line x1="405" y1="249.66" x2="407" y2="249.66" stroke="#000000" stroke-width="1"/>
<line x1="405" y1="244.96" x2="407" y2="244.96" stroke="#000000" stroke-width="1"/>
<line x1="405" y1="241.32" x2="407" y2="241.32" stroke="#000000" stroke-width="1"/>
<line x1="405" y1="238.34" x2="407" y2="238.34" stroke="#000000" stroke-width="1"/>
<line x1="405" y1="235.82" x2="407" y2="235.82" stroke="#000000" stroke-width="1"/>
<line x1="405" y1="233.64" x2="407" y2="233.64" stroke="#000000" stroke-width="1"/>
<line x1="405" y1="231.72" x2="407" y2="231.72" stroke="#000000" stroke-width="1"/>
<line x1="403.2" y1="230" x2="407" y2="230" stroke="#000000" stroke-width="1"/>
<line x1="405" y1="218.68" x2="407" y2="218.68" stroke="#000000" stroke-width="1"/>
<line x1="405" y1="212.06" x2="407" y2="212.06" stroke="#000000" stroke-width="1"/>
<line x1="405" y1="207.36" x2="407" y2="207.36" stroke="#000000" stroke-width="1"/>
<line x1="405" y1="203.72" x2="407" y2="203.72" stroke="#000000" stroke-width="1"/>
<line x1="405" y1="200.74" x2="407" y2="200.74" stroke="#000000" stroke-width="1"/>
<line x1="405" y1="198.22" x2="407" y2="198.22" stroke="#000000" stroke-width="1"/>
<line x1="405" y1="196.04" x2="407" y2="196.04" stroke="#000000" stroke-width="1"/>
<line x1="405" y1="194.12" x2="407" y2="194.12" stroke="#000000" stroke-width="1"/>
<line x1="403.2" y1="192.4" x2="407" y2="192.4" stroke="#000000" stroke-width="1"/>
<text x="399.9" y="196.1" font-size="10.4" fill="#1a1a1a" color="#1a1a1a" text-anchor="end">100</text>
<text x="399.9" y="233.7" font-size="10.4" fill="#1a1a1a" color="#1a1a1a" text-anchor="end">10</text>
<text x="399.9" y="271.3" font-size="10.4" fill="#1a1a1a" color="#1a1a1a" text-anchor="end">1</text>
<text x="399.9" y="308.9" font-size="10.4" fill="#1a1a1a" color="#1a1a1a" text-anchor="end">0.1</text>
<line x1="416.5" y1="316.5" x2="416.5" y2="320" stroke="#000000" stroke-width="1.2"/>
<text x="416.5" y="332.7" font-size="10.3" fill="#1a1a1a" color="#1a1a1a" text-anchor="middle">0</text>
<line x1="426.13" y1="316.5" x2="426.13" y2="318.7" stroke="#000000" stroke-width="1.2"/>
<line x1="435.77" y1="316.5" x2="435.77" y2="320" stroke="#000000" stroke-width="1.2"/>
<text x="435.77" y="332.7" font-size="10.3" fill="#1a1a1a" color="#1a1a1a" text-anchor="middle">2</text>
<line x1="445.4" y1="316.5" x2="445.4" y2="318.7" stroke="#000000" stroke-width="1.2"/>
<line x1="455.04" y1="316.5" x2="455.04" y2="320" stroke="#000000" stroke-width="1.2"/>
<text x="455.04" y="332.7" font-size="10.3" fill="#1a1a1a" color="#1a1a1a" text-anchor="middle">4</text>
<line x1="464.68" y1="316.5" x2="464.68" y2="318.7" stroke="#000000" stroke-width="1.2"/>
<line x1="474.31" y1="316.5" x2="474.31" y2="320" stroke="#000000" stroke-width="1.2"/>
<text x="474.31" y="332.7" font-size="10.3" fill="#1a1a1a" color="#1a1a1a" text-anchor="middle">6</text>
<line x1="483.94" y1="316.5" x2="483.94" y2="318.7" stroke="#000000" stroke-width="1.2"/>
<line x1="493.58" y1="316.5" x2="493.58" y2="320" stroke="#000000" stroke-width="1.2"/>
<text x="493.58" y="332.7" font-size="10.3" fill="#1a1a1a" color="#1a1a1a" text-anchor="middle">8</text>
<line x1="503.22" y1="316.5" x2="503.22" y2="318.7" stroke="#000000" stroke-width="1.2"/>
<line x1="512.85" y1="316.5" x2="512.85" y2="320" stroke="#000000" stroke-width="1.2"/>
<text x="512.85" y="332.7" font-size="10.3" fill="#1a1a1a" color="#1a1a1a" text-anchor="middle">10</text>
<line x1="522.49" y1="316.5" x2="522.49" y2="318.7" stroke="#000000" stroke-width="1.2"/>
<line x1="532.12" y1="316.5" x2="532.12" y2="320" stroke="#000000" stroke-width="1.2"/>
<text x="532.12" y="332.7" font-size="10.3" fill="#1a1a1a" color="#1a1a1a" text-anchor="middle">12</text>
<line x1="541.75" y1="316.5" x2="541.75" y2="318.7" stroke="#000000" stroke-width="1.2"/>
<line x1="551.39" y1="316.5" x2="551.39" y2="320" stroke="#000000" stroke-width="1.2"/>
<text x="551.39" y="332.7" font-size="10.3" fill="#1a1a1a" color="#1a1a1a" text-anchor="middle">14</text>
<line x1="561.02" y1="316.5" x2="561.02" y2="318.7" stroke="#000000" stroke-width="1.2"/>
<line x1="570.66" y1="316.5" x2="570.66" y2="320" stroke="#000000" stroke-width="1.2"/>
<text x="570.66" y="332.7" font-size="10.3" fill="#1a1a1a" color="#1a1a1a" text-anchor="middle">16</text>
<line x1="580.29" y1="316.5" x2="580.29" y2="318.7" stroke="#000000" stroke-width="1.2"/>
<line x1="589.93" y1="316.5" x2="589.93" y2="320" stroke="#000000" stroke-width="1.2"/>
<text x="589.93" y="332.7" font-size="10.3" fill="#1a1a1a" color="#1a1a1a" text-anchor="middle">18</text>
<line x1="599.57" y1="316.5" x2="599.57" y2="318.7" stroke="#000000" stroke-width="1.2"/>
<line x1="609.2" y1="316.5" x2="609.2" y2="320" stroke="#000000" stroke-width="1.2"/>
<text x="609.2" y="332.7" font-size="10.3" fill="#1a1a1a" color="#1a1a1a" text-anchor="middle">20</text>
<text transform="translate(369.9,254.45) rotate(-90)" font-size="10.75" fill="#1a1a1a" color="#1a1a1a" text-anchor="middle">bNAb (µg ml<tspan font-size="7.6" dy="-4.6">−1</tspan><tspan dy="4.6">)</tspan></text>
<polygon points="403.7,330.8 407.6,321.8 411.5,330.8" fill="#000000"/>
<line x1="407.6" y1="329.5" x2="407.6" y2="340.5" stroke="#000000" stroke-width="1.9"/>
<text x="407.6" y="352.2" font-size="10.6" fill="#1a1a1a" color="#1a1a1a" text-anchor="middle">bNAbs</text>
<text x="508.5" y="351.2" font-size="10.6" fill="#1a1a1a" color="#1a1a1a" text-anchor="middle">Weeks</text>
<line x1="409" y1="311.02" x2="606" y2="311.02" stroke="#222" stroke-width="1.3" stroke-dasharray="1.3,2.7"/>
<line x1="409" y1="290.9" x2="606" y2="290.9" stroke="#8a8a8a" stroke-width="1.3" stroke-dasharray="1.3,2.7"/>
<text x="615.4" y="314.1" font-size="8.7" fill="#1a1a1a" color="#1a1a1a">LOD</text>
<text x="633.6" y="316.4" font-size="6.3" fill="#1a1a1a" color="#1a1a1a">10-1074</text>
<text x="615.4" y="295.1" font-size="8.7" fill="#8a8a8a" color="#8a8a8a" style="stroke-width:0.06px">LOD</text>
<text x="633.2" y="297.5" font-size="6.3" fill="#8a8a8a" color="#8a8a8a" style="stroke-width:0.06px">3BNC117</text>
<text x="517.2" y="203" font-size="10.4" fill="#1a1a1a" color="#1a1a1a">10-1074</text>
<text x="517.2" y="218.8" font-size="10.4" fill="#808080" color="#808080" style="stroke-width:0.06px">3BNC117</text>
<polyline points="407.06,290.9 416.5,239.02 426.13,242.78 435.77,248.42 445.4,257.07 455.04,265.72 464.68,273.62 474.31,271.36 483.94,283.02 493.58,290.9 503.22,290.9" fill="none" stroke="#6e6e6e" stroke-width="0.9"/>
<polyline points="407.06,290.9 416.5,239.78 426.13,245.04 435.77,254.44 445.4,261.21 455.04,275.87 464.68,278.13 474.31,287.9 483.94,290.9 493.58,290.9 503.22,290.9" fill="none" stroke="#6e6e6e" stroke-width="0.9"/>
<polyline points="407.06,290.9 416.5,255.94 426.13,267.6 435.77,275.5 445.4,290.9 455.04,290.9 464.68,290.9 474.31,290.9 483.94,290.9 493.58,290.9 503.22,290.9" fill="none" stroke="#6e6e6e" stroke-width="0.9"/>
<polyline points="407.06,290.9 416.5,232.26 426.13,239.4 435.77,247.3 445.4,244.66 455.04,258.58 464.68,273.62 474.31,278.88 483.94,283.02 493.58,290.9 503.22,290.9" fill="none" stroke="#6e6e6e" stroke-width="0.9"/>
<polyline points="407.06,290.9 416.5,240.9 426.13,246.17 435.77,250.3 445.4,259.33 455.04,269.48 464.68,284.52 474.31,290.9 483.94,290.9 493.58,290.9 503.22,290.9" fill="none" stroke="#6e6e6e" stroke-width="0.9"/>
<polyline points="407.06,311.02 416.5,203.3 426.13,215.34 435.77,225.49 445.4,226.62 455.04,235.26 464.68,243.91 474.31,249.93 483.94,255.19 493.58,259.7 503.22,267.6 512.85,278.5 522.49,287.15 532.12,293.92 541.75,304.82 551.39,304.82 561.02,311.02 570.66,311.02 580.29,311.02 589.93,311.02 599.57,311.02 609.2,311.02" fill="none" stroke="#000000" stroke-width="0.9"/>
<polyline points="407.06,311.02 416.5,209.7 426.13,220.98 435.77,230 445.4,236.39 455.04,246.54 464.68,250.68 474.31,257.82 483.94,261.96 493.58,269.1 503.22,275.87 512.85,293.54 522.49,304.82 532.12,311.02 541.75,311.02 551.39,311.02 561.02,311.02 570.66,311.02 580.29,311.02 589.93,311.02 599.57,311.02 609.2,311.02" fill="none" stroke="#000000" stroke-width="0.9"/>
<polyline points="407.06,311.02 416.5,213.08 426.13,223.23 435.77,230.75 445.4,238.27 455.04,239.4 464.68,246.92 474.31,253.69 483.94,260.08 493.58,265.72 503.22,273.24 512.85,293.54 522.49,304.82 532.12,304.07 541.75,311.02 551.39,311.02 561.02,311.02 570.66,311.02 580.29,311.02 589.93,311.02 599.57,311.02 609.2,311.02" fill="none" stroke="#000000" stroke-width="0.9"/>
<polyline points="407.06,311.02 416.5,211.2 426.13,220.6 435.77,228.12 445.4,230 455.04,230.75 464.68,241.66 474.31,244.29 483.94,246.92 493.58,258.95 503.22,262.34 512.85,278.5 522.49,287.15 532.12,287.15 541.75,293.92 551.39,311.02 561.02,311.02 570.66,311.02 580.29,311.02 589.93,311.02 599.57,311.02 609.2,311.02" fill="none" stroke="#000000" stroke-width="0.9"/>
<polyline points="407.06,311.02 416.5,214.96 426.13,224.36 435.77,231.88 445.4,237.52 455.04,242.78 464.68,254.44 474.31,257.07 483.94,267.6 493.58,269.48 503.22,282.26 512.85,304.45 522.49,311.02 532.12,311.02 541.75,311.02 551.39,311.02 561.02,311.02 570.66,311.02 580.29,311.02 589.93,311.02 599.57,311.02 609.2,311.02" fill="none" stroke="#000000" stroke-width="0.9"/>
<circle cx="407.06" cy="290.9" r="1.88" fill="#6e6e6e"/>
<circle cx="416.5" cy="239.02" r="1.88" fill="#6e6e6e"/>
<circle cx="426.13" cy="242.78" r="1.88" fill="#6e6e6e"/>
<circle cx="435.77" cy="248.42" r="1.88" fill="#6e6e6e"/>
<circle cx="445.4" cy="257.07" r="1.88" fill="#6e6e6e"/>
<circle cx="455.04" cy="265.72" r="1.88" fill="#6e6e6e"/>
<circle cx="464.68" cy="273.62" r="1.88" fill="#6e6e6e"/>
<circle cx="474.31" cy="271.36" r="1.88" fill="#6e6e6e"/>
<circle cx="483.94" cy="283.02" r="1.88" fill="#6e6e6e"/>
<circle cx="493.58" cy="290.9" r="1.88" fill="#6e6e6e"/>
<circle cx="503.22" cy="290.9" r="1.88" fill="#6e6e6e"/>
<rect x="405.1" y="288.94" width="3.92" height="3.92" fill="#6e6e6e"/>
<rect x="414.54" y="237.82" width="3.92" height="3.92" fill="#6e6e6e"/>
<rect x="424.18" y="243.08" width="3.92" height="3.92" fill="#6e6e6e"/>
<rect x="433.81" y="252.48" width="3.92" height="3.92" fill="#6e6e6e"/>
<rect x="443.44" y="259.25" width="3.92" height="3.92" fill="#6e6e6e"/>
<rect x="453.08" y="273.91" width="3.92" height="3.92" fill="#6e6e6e"/>
<rect x="462.72" y="276.17" width="3.92" height="3.92" fill="#6e6e6e"/>
<rect x="472.35" y="285.94" width="3.92" height="3.92" fill="#6e6e6e"/>
<rect x="481.99" y="288.94" width="3.92" height="3.92" fill="#6e6e6e"/>
<rect x="491.62" y="288.94" width="3.92" height="3.92" fill="#6e6e6e"/>
<rect x="501.26" y="288.94" width="3.92" height="3.92" fill="#6e6e6e"/>
<polygon points="404.66,289.1 409.46,289.1 407.06,293.3" fill="#6e6e6e"/>
<polygon points="414.1,254.14 418.9,254.14 416.5,258.34" fill="#6e6e6e"/>
<polygon points="423.74,265.8 428.53,265.8 426.13,270" fill="#6e6e6e"/>
<polygon points="433.37,273.7 438.17,273.7 435.77,277.9" fill="#6e6e6e"/>
<polygon points="443,289.1 447.8,289.1 445.4,293.3" fill="#6e6e6e"/>
<polygon points="452.64,289.1 457.44,289.1 455.04,293.3" fill="#6e6e6e"/>
<polygon points="462.28,289.1 467.07,289.1 464.68,293.3" fill="#6e6e6e"/>
<polygon points="471.91,289.1 476.71,289.1 474.31,293.3" fill="#6e6e6e"/>
<polygon points="481.55,289.1 486.34,289.1 483.94,293.3" fill="#6e6e6e"/>
<polygon points="491.18,289.1 495.98,289.1 493.58,293.3" fill="#6e6e6e"/>
<polygon points="500.82,289.1 505.62,289.1 503.22,293.3" fill="#6e6e6e"/>
<polygon points="404.66,292.7 409.46,292.7 407.06,288.5" fill="#6e6e6e"/>
<polygon points="414.1,234.06 418.9,234.06 416.5,229.86" fill="#6e6e6e"/>
<polygon points="423.74,241.2 428.53,241.2 426.13,237" fill="#6e6e6e"/>
<polygon points="433.37,249.1 438.17,249.1 435.77,244.9" fill="#6e6e6e"/>
<polygon points="443,246.46 447.8,246.46 445.4,242.26" fill="#6e6e6e"/>
<polygon points="452.64,260.38 457.44,260.38 455.04,256.18" fill="#6e6e6e"/>
<polygon points="462.28,275.42 467.07,275.42 464.68,271.22" fill="#6e6e6e"/>
<polygon points="471.91,280.68 476.71,280.68 474.31,276.48" fill="#6e6e6e"/>
<polygon points="481.55,284.82 486.34,284.82 483.94,280.62" fill="#6e6e6e"/>
<polygon points="491.18,292.7 495.98,292.7 493.58,288.5" fill="#6e6e6e"/>
<polygon points="500.82,292.7 505.62,292.7 503.22,288.5" fill="#6e6e6e"/>
<polygon points="407.06,289.22 408.74,290.9 407.06,292.58 405.38,290.9" fill="#6e6e6e"/>
<polygon points="416.5,239.22 418.18,240.9 416.5,242.58 414.82,240.9" fill="#6e6e6e"/>
<polygon points="426.13,244.49 427.81,246.17 426.13,247.85 424.45,246.17" fill="#6e6e6e"/>
<polygon points="435.77,248.62 437.45,250.3 435.77,251.98 434.09,250.3" fill="#6e6e6e"/>
<polygon points="445.4,257.65 447.08,259.33 445.4,261.01 443.72,259.33" fill="#6e6e6e"/>
<polygon points="455.04,267.8 456.72,269.48 455.04,271.16 453.36,269.48" fill="#6e6e6e"/>
<polygon points="464.68,282.84 466.36,284.52 464.68,286.2 463,284.52" fill="#6e6e6e"/>
<polygon points="474.31,289.22 475.99,290.9 474.31,292.58 472.63,290.9" fill="#6e6e6e"/>
<polygon points="483.94,289.22 485.62,290.9 483.94,292.58 482.26,290.9" fill="#6e6e6e"/>
<polygon points="493.58,289.22 495.26,290.9 493.58,292.58 491.9,290.9" fill="#6e6e6e"/>
<polygon points="503.22,289.22 504.9,290.9 503.22,292.58 501.54,290.9" fill="#6e6e6e"/>
<circle cx="407.06" cy="311.02" r="2.02" fill="#000000"/>
<circle cx="416.5" cy="203.3" r="2.02" fill="#000000"/>
<circle cx="426.13" cy="215.34" r="2.02" fill="#000000"/>
<circle cx="435.77" cy="225.49" r="2.02" fill="#000000"/>
<circle cx="445.4" cy="226.62" r="2.02" fill="#000000"/>
<circle cx="455.04" cy="235.26" r="2.02" fill="#000000"/>
<circle cx="464.68" cy="243.91" r="2.02" fill="#000000"/>
<circle cx="474.31" cy="249.93" r="2.02" fill="#000000"/>
<circle cx="483.94" cy="255.19" r="2.02" fill="#000000"/>
<circle cx="493.58" cy="259.7" r="2.02" fill="#000000"/>
<circle cx="503.22" cy="267.6" r="2.02" fill="#000000"/>
<circle cx="512.85" cy="278.5" r="2.02" fill="#000000"/>
<circle cx="522.49" cy="287.15" r="2.02" fill="#000000"/>
<circle cx="532.12" cy="293.92" r="2.02" fill="#000000"/>
<circle cx="541.75" cy="304.82" r="2.02" fill="#000000"/>
<circle cx="551.39" cy="304.82" r="2.02" fill="#000000"/>
<circle cx="561.02" cy="311.02" r="2.02" fill="#000000"/>
<circle cx="570.66" cy="311.02" r="2.02" fill="#000000"/>
<circle cx="580.29" cy="311.02" r="2.02" fill="#000000"/>
<circle cx="589.93" cy="311.02" r="2.02" fill="#000000"/>
<circle cx="599.57" cy="311.02" r="2.02" fill="#000000"/>
<circle cx="609.2" cy="311.02" r="2.02" fill="#000000"/>
<rect x="404.95" y="308.92" width="4.21" height="4.21" fill="#000000"/>
<rect x="414.39" y="207.59" width="4.21" height="4.21" fill="#000000"/>
<rect x="424.03" y="218.87" width="4.21" height="4.21" fill="#000000"/>
<rect x="433.66" y="227.89" width="4.21" height="4.21" fill="#000000"/>
<rect x="443.3" y="234.29" width="4.21" height="4.21" fill="#000000"/>
<rect x="452.93" y="244.44" width="4.21" height="4.21" fill="#000000"/>
<rect x="462.57" y="248.57" width="4.21" height="4.21" fill="#000000"/>
<rect x="472.2" y="255.72" width="4.21" height="4.21" fill="#000000"/>
<rect x="481.84" y="259.85" width="4.21" height="4.21" fill="#000000"/>
<rect x="491.47" y="267" width="4.21" height="4.21" fill="#000000"/>
<rect x="501.11" y="273.76" width="4.21" height="4.21" fill="#000000"/>
<rect x="510.74" y="291.44" width="4.21" height="4.21" fill="#000000"/>
<rect x="520.38" y="302.72" width="4.21" height="4.21" fill="#000000"/>
<rect x="530.01" y="308.92" width="4.21" height="4.21" fill="#000000"/>
<rect x="539.65" y="308.92" width="4.21" height="4.21" fill="#000000"/>
<rect x="549.28" y="308.92" width="4.21" height="4.21" fill="#000000"/>
<rect x="558.92" y="308.92" width="4.21" height="4.21" fill="#000000"/>
<rect x="568.55" y="308.92" width="4.21" height="4.21" fill="#000000"/>
<rect x="578.19" y="308.92" width="4.21" height="4.21" fill="#000000"/>
<rect x="587.82" y="308.92" width="4.21" height="4.21" fill="#000000"/>
<rect x="597.46" y="308.92" width="4.21" height="4.21" fill="#000000"/>
<rect x="607.09" y="308.92" width="4.21" height="4.21" fill="#000000"/>
<polygon points="404.48,309.09 409.64,309.09 407.06,313.6" fill="#000000"/>
<polygon points="413.92,211.15 419.08,211.15 416.5,215.66" fill="#000000"/>
<polygon points="423.56,221.3 428.71,221.3 426.13,225.81" fill="#000000"/>
<polygon points="433.19,228.82 438.35,228.82 435.77,233.33" fill="#000000"/>
<polygon points="442.82,236.34 447.98,236.34 445.4,240.85" fill="#000000"/>
<polygon points="452.46,237.47 457.62,237.47 455.04,241.98" fill="#000000"/>
<polygon points="462.1,244.99 467.25,244.99 464.68,249.5" fill="#000000"/>
<polygon points="471.73,251.75 476.89,251.75 474.31,256.27" fill="#000000"/>
<polygon points="481.37,258.15 486.52,258.15 483.94,262.66" fill="#000000"/>
<polygon points="491,263.79 496.16,263.79 493.58,268.3" fill="#000000"/>
<polygon points="500.64,271.31 505.8,271.31 503.22,275.82" fill="#000000"/>
<polygon points="510.27,291.61 515.43,291.61 512.85,296.12" fill="#000000"/>
<polygon points="519.9,302.89 525.07,302.89 522.49,307.4" fill="#000000"/>
<polygon points="529.54,302.14 534.7,302.14 532.12,306.65" fill="#000000"/>
<polygon points="539.17,309.09 544.34,309.09 541.75,313.6" fill="#000000"/>
<polygon points="548.81,309.09 553.97,309.09 551.39,313.6" fill="#000000"/>
<polygon points="558.44,309.09 563.61,309.09 561.02,313.6" fill="#000000"/>
<polygon points="568.08,309.09 573.24,309.09 570.66,313.6" fill="#000000"/>
<polygon points="577.71,309.09 582.88,309.09 580.29,313.6" fill="#000000"/>
<polygon points="587.35,309.09 592.51,309.09 589.93,313.6" fill="#000000"/>
<polygon points="596.99,309.09 602.15,309.09 599.57,313.6" fill="#000000"/>
<polygon points="606.62,309.09 611.78,309.09 609.2,313.6" fill="#000000"/>
<polygon points="404.48,312.96 409.64,312.96 407.06,308.44" fill="#000000"/>
<polygon points="413.92,213.14 419.08,213.14 416.5,208.62" fill="#000000"/>
<polygon points="423.56,222.54 428.71,222.54 426.13,218.02" fill="#000000"/>
<polygon points="433.19,230.06 438.35,230.06 435.77,225.54" fill="#000000"/>
<polygon points="442.82,231.94 447.98,231.94 445.4,227.42" fill="#000000"/>
<polygon points="452.46,232.69 457.62,232.69 455.04,228.17" fill="#000000"/>
<polygon points="462.1,243.59 467.25,243.59 464.68,239.08" fill="#000000"/>
<polygon points="471.73,246.22 476.89,246.22 474.31,241.71" fill="#000000"/>
<polygon points="481.37,248.86 486.52,248.86 483.94,244.34" fill="#000000"/>
<polygon points="491,260.89 496.16,260.89 493.58,256.37" fill="#000000"/>
<polygon points="500.64,264.27 505.8,264.27 503.22,259.76" fill="#000000"/>
<polygon points="510.27,280.44 515.43,280.44 512.85,275.92" fill="#000000"/>
<polygon points="519.9,289.09 525.07,289.09 522.49,284.57" fill="#000000"/>
<polygon points="529.54,289.09 534.7,289.09 532.12,284.57" fill="#000000"/>
<polygon points="539.17,295.86 544.34,295.86 541.75,291.34" fill="#000000"/>
<polygon points="548.81,312.96 553.97,312.96 551.39,308.44" fill="#000000"/>
<polygon points="558.44,312.96 563.61,312.96 561.02,308.44" fill="#000000"/>
<polygon points="568.08,312.96 573.24,312.96 570.66,308.44" fill="#000000"/>
<polygon points="577.71,312.96 582.88,312.96 580.29,308.44" fill="#000000"/>
<polygon points="587.35,312.96 592.51,312.96 589.93,308.44" fill="#000000"/>
<polygon points="596.99,312.96 602.15,312.96 599.57,308.44" fill="#000000"/>
<polygon points="606.62,312.96 611.78,312.96 609.2,308.44" fill="#000000"/>
<polygon points="407.06,309.22 408.86,311.02 407.06,312.83 405.25,311.02" fill="#000000"/>
<polygon points="416.5,213.15 418.31,214.96 416.5,216.77 414.69,214.96" fill="#000000"/>
<polygon points="426.13,222.55 427.94,224.36 426.13,226.17 424.33,224.36" fill="#000000"/>
<polygon points="435.77,230.07 437.58,231.88 435.77,233.69 433.96,231.88" fill="#000000"/>
<polygon points="445.4,235.71 447.21,237.52 445.4,239.33 443.6,237.52" fill="#000000"/>
<polygon points="455.04,240.98 456.85,242.78 455.04,244.59 453.23,242.78" fill="#000000"/>
<polygon points="464.68,252.63 466.48,254.44 464.68,256.25 462.87,254.44" fill="#000000"/>
<polygon points="474.31,255.27 476.12,257.07 474.31,258.88 472.5,257.07" fill="#000000"/>
<polygon points="483.94,265.79 485.75,267.6 483.94,269.41 482.14,267.6" fill="#000000"/>
<polygon points="493.58,267.67 495.39,269.48 493.58,271.29 491.77,269.48" fill="#000000"/>
<polygon points="503.22,280.46 505.02,282.26 503.22,284.07 501.41,282.26" fill="#000000"/>
<polygon points="512.85,302.64 514.66,304.45 512.85,306.25 511.04,304.45" fill="#000000"/>
<polygon points="522.49,309.22 524.29,311.02 522.49,312.83 520.68,311.02" fill="#000000"/>
<polygon points="532.12,309.22 533.93,311.02 532.12,312.83 530.31,311.02" fill="#000000"/>
<polygon points="541.75,309.22 543.56,311.02 541.75,312.83 539.95,311.02" fill="#000000"/>
<polygon points="551.39,309.22 553.2,311.02 551.39,312.83 549.58,311.02" fill="#000000"/>
<polygon points="561.02,309.22 562.83,311.02 561.02,312.83 559.22,311.02" fill="#000000"/>
<polygon points="570.66,309.22 572.47,311.02 570.66,312.83 568.85,311.02" fill="#000000"/>
<polygon points="580.29,309.22 582.1,311.02 580.29,312.83 578.49,311.02" fill="#000000"/>
<polygon points="589.93,309.22 591.74,311.02 589.93,312.83 588.12,311.02" fill="#000000"/>
<polygon points="599.57,309.22 601.37,311.02 599.57,312.83 597.76,311.02" fill="#000000"/>
<polygon points="609.2,309.22 611.01,311.02 609.2,312.83 607.39,311.02" fill="#000000"/>
<line x1="595.5" y1="198.3" x2="610.1" y2="198.3" stroke="#000000" stroke-width="1"/>
<circle cx="602.8" cy="198.3" r="2.16" fill="#000000"/>
<line x1="619.2" y1="198.3" x2="633.8" y2="198.3" stroke="#8a8a8a" stroke-width="1"/>
<circle cx="626.4" cy="198.3" r="2.07" fill="#707070"/>
<text x="638.5" y="201.5" font-size="8.75" fill="#1a1a1a" color="#1a1a1a">RQ-02E035</text>
<line x1="595.5" y1="213.7" x2="610.1" y2="213.7" stroke="#000000" stroke-width="1"/>
<rect x="600.55" y="211.45" width="4.51" height="4.51" fill="#000000"/>
<line x1="619.2" y1="213.7" x2="633.8" y2="213.7" stroke="#8a8a8a" stroke-width="1"/>
<rect x="624.24" y="211.54" width="4.31" height="4.31" fill="#707070"/>
<text x="638.5" y="216.9" font-size="8.75" fill="#1a1a1a" color="#1a1a1a">RQ-02E060</text>
<line x1="595.5" y1="229.1" x2="610.1" y2="229.1" stroke="#000000" stroke-width="1"/>
<polygon points="600.04,227.03 605.56,227.03 602.8,231.86" fill="#000000"/>
<line x1="619.2" y1="229.1" x2="633.8" y2="229.1" stroke="#8a8a8a" stroke-width="1"/>
<polygon points="623.76,227.12 629.04,227.12 626.4,231.74" fill="#707070"/>
<text x="638.5" y="232.3" font-size="8.75" fill="#1a1a1a" color="#1a1a1a">RQ-8433</text>
<line x1="595.5" y1="244.5" x2="610.1" y2="244.5" stroke="#000000" stroke-width="1"/>
<polygon points="600.04,246.57 605.56,246.57 602.8,241.74" fill="#000000"/>
<line x1="619.2" y1="244.5" x2="633.8" y2="244.5" stroke="#8a8a8a" stroke-width="1"/>
<polygon points="623.76,246.48 629.04,246.48 626.4,241.86" fill="#707070"/>
<text x="638.5" y="247.7" font-size="8.75" fill="#1a1a1a" color="#1a1a1a">RQ-8684</text>
<line x1="595.5" y1="259.9" x2="610.1" y2="259.9" stroke="#000000" stroke-width="1"/>
<polygon points="602.8,257.97 604.73,259.9 602.8,261.83 600.87,259.9" fill="#000000"/>
<line x1="619.2" y1="259.9" x2="633.8" y2="259.9" stroke="#8a8a8a" stroke-width="1"/>
<polygon points="626.4,258.05 628.25,259.9 626.4,261.75 624.55,259.9" fill="#707070"/>
<text x="638.5" y="263.1" font-size="8.75" fill="#1a1a1a" color="#1a1a1a">RQ-8918</text>
<text x="355.4" y="383.4" font-size="16.5" fill="#000000" color="#000000" font-weight="bold">g</text>
<line x1="406.7" y1="390.9" x2="406.7" y2="516.3" stroke="#000000" stroke-width="1.6"/>
<line x1="406" y1="515.7" x2="609.7" y2="515.7" stroke="#000000" stroke-width="1.5"/>
<line x1="404.7" y1="515.72" x2="406.7" y2="515.72" stroke="#000000" stroke-width="1"/>
<line x1="404.7" y1="512.74" x2="406.7" y2="512.74" stroke="#000000" stroke-width="1"/>
<line x1="404.7" y1="510.22" x2="406.7" y2="510.22" stroke="#000000" stroke-width="1"/>
<line x1="404.7" y1="508.04" x2="406.7" y2="508.04" stroke="#000000" stroke-width="1"/>
<line x1="404.7" y1="506.12" x2="406.7" y2="506.12" stroke="#000000" stroke-width="1"/>
<line x1="402.9" y1="504.4" x2="406.7" y2="504.4" stroke="#000000" stroke-width="1"/>
<line x1="404.7" y1="493.08" x2="406.7" y2="493.08" stroke="#000000" stroke-width="1"/>
<line x1="404.7" y1="486.46" x2="406.7" y2="486.46" stroke="#000000" stroke-width="1"/>
<line x1="404.7" y1="481.76" x2="406.7" y2="481.76" stroke="#000000" stroke-width="1"/>
<line x1="404.7" y1="478.12" x2="406.7" y2="478.12" stroke="#000000" stroke-width="1"/>
<line x1="404.7" y1="475.14" x2="406.7" y2="475.14" stroke="#000000" stroke-width="1"/>
<line x1="404.7" y1="472.62" x2="406.7" y2="472.62" stroke="#000000" stroke-width="1"/>
<line x1="404.7" y1="470.44" x2="406.7" y2="470.44" stroke="#000000" stroke-width="1"/>
<line x1="404.7" y1="468.52" x2="406.7" y2="468.52" stroke="#000000" stroke-width="1"/>
<line x1="402.9" y1="466.8" x2="406.7" y2="466.8" stroke="#000000" stroke-width="1"/>
<line x1="404.7" y1="455.48" x2="406.7" y2="455.48" stroke="#000000" stroke-width="1"/>
<line x1="404.7" y1="448.86" x2="406.7" y2="448.86" stroke="#000000" stroke-width="1"/>
<line x1="404.7" y1="444.16" x2="406.7" y2="444.16" stroke="#000000" stroke-width="1"/>
<line x1="404.7" y1="440.52" x2="406.7" y2="440.52" stroke="#000000" stroke-width="1"/>
<line x1="404.7" y1="437.54" x2="406.7" y2="437.54" stroke="#000000" stroke-width="1"/>
<line x1="404.7" y1="435.02" x2="406.7" y2="435.02" stroke="#000000" stroke-width="1"/>
<line x1="404.7" y1="432.84" x2="406.7" y2="432.84" stroke="#000000" stroke-width="1"/>
<line x1="404.7" y1="430.92" x2="406.7" y2="430.92" stroke="#000000" stroke-width="1"/>
<line x1="402.9" y1="429.2" x2="406.7" y2="429.2" stroke="#000000" stroke-width="1"/>
<line x1="404.7" y1="417.88" x2="406.7" y2="417.88" stroke="#000000" stroke-width="1"/>
<line x1="404.7" y1="411.26" x2="406.7" y2="411.26" stroke="#000000" stroke-width="1"/>
<line x1="404.7" y1="406.56" x2="406.7" y2="406.56" stroke="#000000" stroke-width="1"/>
<line x1="404.7" y1="402.92" x2="406.7" y2="402.92" stroke="#000000" stroke-width="1"/>
<line x1="404.7" y1="399.94" x2="406.7" y2="399.94" stroke="#000000" stroke-width="1"/>
<line x1="404.7" y1="397.42" x2="406.7" y2="397.42" stroke="#000000" stroke-width="1"/>
<line x1="404.7" y1="395.24" x2="406.7" y2="395.24" stroke="#000000" stroke-width="1"/>
<line x1="404.7" y1="393.32" x2="406.7" y2="393.32" stroke="#000000" stroke-width="1"/>
<line x1="402.9" y1="391.6" x2="406.7" y2="391.6" stroke="#000000" stroke-width="1"/>
<text x="399.9" y="395.3" font-size="10.4" fill="#1a1a1a" color="#1a1a1a" text-anchor="end">100</text>
<text x="399.9" y="432.9" font-size="10.4" fill="#1a1a1a" color="#1a1a1a" text-anchor="end">10</text>
<text x="399.9" y="470.5" font-size="10.4" fill="#1a1a1a" color="#1a1a1a" text-anchor="end">1</text>
<text x="399.9" y="508.1" font-size="10.4" fill="#1a1a1a" color="#1a1a1a" text-anchor="end">0.1</text>
<line x1="416.4" y1="515.7" x2="416.4" y2="519.2" stroke="#000000" stroke-width="1.2"/>
<text x="416.4" y="531.9" font-size="10.3" fill="#1a1a1a" color="#1a1a1a" text-anchor="middle">0</text>
<line x1="426.03" y1="515.7" x2="426.03" y2="517.9" stroke="#000000" stroke-width="1.2"/>
<line x1="435.67" y1="515.7" x2="435.67" y2="519.2" stroke="#000000" stroke-width="1.2"/>
<text x="435.67" y="531.9" font-size="10.3" fill="#1a1a1a" color="#1a1a1a" text-anchor="middle">2</text>
<line x1="445.3" y1="515.7" x2="445.3" y2="517.9" stroke="#000000" stroke-width="1.2"/>
<line x1="454.94" y1="515.7" x2="454.94" y2="519.2" stroke="#000000" stroke-width="1.2"/>
<text x="454.94" y="531.9" font-size="10.3" fill="#1a1a1a" color="#1a1a1a" text-anchor="middle">4</text>
<line x1="464.57" y1="515.7" x2="464.57" y2="517.9" stroke="#000000" stroke-width="1.2"/>
<line x1="474.21" y1="515.7" x2="474.21" y2="519.2" stroke="#000000" stroke-width="1.2"/>
<text x="474.21" y="531.9" font-size="10.3" fill="#1a1a1a" color="#1a1a1a" text-anchor="middle">6</text>
<line x1="483.84" y1="515.7" x2="483.84" y2="517.9" stroke="#000000" stroke-width="1.2"/>
<line x1="493.48" y1="515.7" x2="493.48" y2="519.2" stroke="#000000" stroke-width="1.2"/>
<text x="493.48" y="531.9" font-size="10.3" fill="#1a1a1a" color="#1a1a1a" text-anchor="middle">8</text>
<line x1="503.12" y1="515.7" x2="503.12" y2="517.9" stroke="#000000" stroke-width="1.2"/>
<line x1="512.75" y1="515.7" x2="512.75" y2="519.2" stroke="#000000" stroke-width="1.2"/>
<text x="512.75" y="531.9" font-size="10.3" fill="#1a1a1a" color="#1a1a1a" text-anchor="middle">10</text>
<line x1="522.38" y1="515.7" x2="522.38" y2="517.9" stroke="#000000" stroke-width="1.2"/>
<line x1="532.02" y1="515.7" x2="532.02" y2="519.2" stroke="#000000" stroke-width="1.2"/>
<text x="532.02" y="531.9" font-size="10.3" fill="#1a1a1a" color="#1a1a1a" text-anchor="middle">12</text>
<line x1="541.65" y1="515.7" x2="541.65" y2="517.9" stroke="#000000" stroke-width="1.2"/>
<line x1="551.29" y1="515.7" x2="551.29" y2="519.2" stroke="#000000" stroke-width="1.2"/>
<text x="551.29" y="531.9" font-size="10.3" fill="#1a1a1a" color="#1a1a1a" text-anchor="middle">14</text>
<line x1="560.92" y1="515.7" x2="560.92" y2="517.9" stroke="#000000" stroke-width="1.2"/>
<line x1="570.56" y1="515.7" x2="570.56" y2="519.2" stroke="#000000" stroke-width="1.2"/>
<text x="570.56" y="531.9" font-size="10.3" fill="#1a1a1a" color="#1a1a1a" text-anchor="middle">16</text>
<line x1="580.19" y1="515.7" x2="580.19" y2="517.9" stroke="#000000" stroke-width="1.2"/>
<line x1="589.83" y1="515.7" x2="589.83" y2="519.2" stroke="#000000" stroke-width="1.2"/>
<text x="589.83" y="531.9" font-size="10.3" fill="#1a1a1a" color="#1a1a1a" text-anchor="middle">18</text>
<line x1="599.46" y1="515.7" x2="599.46" y2="517.9" stroke="#000000" stroke-width="1.2"/>
<line x1="609.1" y1="515.7" x2="609.1" y2="519.2" stroke="#000000" stroke-width="1.2"/>
<text x="609.1" y="531.9" font-size="10.3" fill="#1a1a1a" color="#1a1a1a" text-anchor="middle">20</text>
<text transform="translate(369.9,453.65) rotate(-90)" font-size="10.75" fill="#1a1a1a" color="#1a1a1a" text-anchor="middle">bNAb (µg ml<tspan font-size="7.6" dy="-4.6">−1</tspan><tspan dy="4.6">)</tspan></text>
<polygon points="403.7,530 407.6,521 411.5,530" fill="#000000"/>
<line x1="407.6" y1="528.7" x2="407.6" y2="539.7" stroke="#000000" stroke-width="1.9"/>
<text x="407.4" y="550.6" font-size="10.4" fill="#1a1a1a" color="#1a1a1a" text-anchor="middle">bNAb</text>
<text x="505" y="546.2" font-size="10.6" fill="#1a1a1a" color="#1a1a1a" text-anchor="middle">Weeks</text>
<line x1="409" y1="490.45" x2="598" y2="490.45" stroke="#8a8a8a" stroke-width="1.2" stroke-dasharray="1.3,2.7"/>
<text x="615.4" y="494" font-size="8.7" fill="#8a8a8a" color="#8a8a8a" style="stroke-width:0.06px">LOD</text>
<text x="633.2" y="496.4" font-size="6.3" fill="#8a8a8a" color="#8a8a8a" style="stroke-width:0.06px">3BNC117</text>
<text x="516.4" y="402.2" font-size="10.4" fill="#808080" color="#808080" style="stroke-width:0.06px">3BNC117</text>
<polyline points="406.96,490.45 416.4,428.07 426.03,434.84 435.67,437.85 445.3,451.38 454.94,454.77 464.57,457.02 474.21,466.8 483.84,470.56 493.48,490.45" fill="none" stroke="#6e6e6e" stroke-width="0.9"/>
<polyline points="406.96,490.45 416.4,431.46 426.03,439.35 435.67,445.37 445.3,458.9 454.94,475.07 464.57,490.45 474.21,490.45 483.84,490.45 493.48,490.45 503.12,490.45" fill="none" stroke="#6e6e6e" stroke-width="0.9"/>
<polyline points="406.96,490.45 416.4,432.21 426.03,437.85 435.67,447.62 445.3,460.03 454.94,466.42 464.57,464.54 474.21,472.44 483.84,485.98 493.48,490.45" fill="none" stroke="#6e6e6e" stroke-width="0.9"/>
<polyline points="406.96,490.45 416.4,441.23 426.03,450.63 435.67,457.02 445.3,467.93 454.94,481.46 464.57,490.45 474.21,490.45" fill="none" stroke="#6e6e6e" stroke-width="0.9"/>
<polyline points="406.96,490.45 416.4,458.53 426.03,459.66 435.67,469.06 445.3,473.19 454.94,481.84 464.57,486.73 474.21,490.45" fill="none" stroke="#6e6e6e" stroke-width="0.9"/>
<polyline points="406.96,490.45 416.4,431.83 426.03,441.61 435.67,449.13 445.3,461.91 454.94,470.56 464.57,478.46 474.21,490.45" fill="none" stroke="#6e6e6e" stroke-width="0.9"/>
<polygon points="406.96,487.97 407.61,489.54 409.32,489.68 408.02,490.79 408.42,492.45 406.96,491.56 405.5,492.45 405.9,490.79 404.6,489.68 406.3,489.54" fill="#6e6e6e"/>
<polygon points="416.4,425.59 417.06,427.17 418.76,427.31 417.46,428.42 417.86,430.08 416.4,429.19 414.94,430.08 415.34,428.42 414.04,427.31 415.74,427.17" fill="#6e6e6e"/>
<polygon points="426.03,432.36 426.69,433.94 428.39,434.07 427.1,435.18 427.49,436.85 426.03,435.96 424.58,436.85 424.97,435.18 423.68,434.07 425.38,433.94" fill="#6e6e6e"/>
<polygon points="435.67,435.37 436.33,436.95 438.03,437.08 436.73,438.19 437.13,439.85 435.67,438.96 434.21,439.85 434.61,438.19 433.31,437.08 435.01,436.95" fill="#6e6e6e"/>
<polygon points="445.3,448.9 445.96,450.48 447.66,450.62 446.37,451.73 446.76,453.39 445.3,452.5 443.85,453.39 444.24,451.73 442.95,450.62 444.65,450.48" fill="#6e6e6e"/>
<polygon points="454.94,452.29 455.6,453.87 457.3,454 456,455.11 456.4,456.77 454.94,455.88 453.48,456.77 453.88,455.11 452.58,454 454.28,453.87" fill="#6e6e6e"/>
<polygon points="464.57,454.54 465.23,456.12 466.93,456.26 465.64,457.37 466.03,459.03 464.57,458.14 463.12,459.03 463.51,457.37 462.22,456.26 463.92,456.12" fill="#6e6e6e"/>
<polygon points="474.21,464.32 474.87,465.9 476.57,466.03 475.27,467.14 475.67,468.81 474.21,467.92 472.75,468.81 473.15,467.14 471.85,466.03 473.55,465.9" fill="#6e6e6e"/>
<polygon points="483.84,468.08 484.5,469.66 486.2,469.79 484.91,470.9 485.3,472.57 483.84,471.68 482.39,472.57 482.78,470.9 481.49,469.79 483.19,469.66" fill="#6e6e6e"/>
<polygon points="493.48,487.97 494.14,489.54 495.84,489.68 494.54,490.79 494.94,492.45 493.48,491.56 492.02,492.45 492.42,490.79 491.12,489.68 492.82,489.54" fill="#6e6e6e"/>
<rect x="405" y="488.49" width="3.92" height="3.92" fill="#6e6e6e"/>
<rect x="414.44" y="429.5" width="3.92" height="3.92" fill="#6e6e6e"/>
<rect x="424.07" y="437.39" width="3.92" height="3.92" fill="#6e6e6e"/>
<rect x="433.71" y="443.41" width="3.92" height="3.92" fill="#6e6e6e"/>
<rect x="443.34" y="456.94" width="3.92" height="3.92" fill="#6e6e6e"/>
<rect x="452.98" y="473.11" width="3.92" height="3.92" fill="#6e6e6e"/>
<rect x="462.62" y="488.49" width="3.92" height="3.92" fill="#6e6e6e"/>
<rect x="472.25" y="488.49" width="3.92" height="3.92" fill="#6e6e6e"/>
<rect x="481.88" y="488.49" width="3.92" height="3.92" fill="#6e6e6e"/>
<rect x="491.52" y="488.49" width="3.92" height="3.92" fill="#6e6e6e"/>
<rect x="501.16" y="488.49" width="3.92" height="3.92" fill="#6e6e6e"/>
<polygon points="404.56,488.65 409.36,488.65 406.96,492.85" fill="#6e6e6e"/>
<polygon points="414,430.41 418.8,430.41 416.4,434.61" fill="#6e6e6e"/>
<polygon points="423.63,436.05 428.43,436.05 426.03,440.25" fill="#6e6e6e"/>
<polygon points="433.27,445.82 438.07,445.82 435.67,450.02" fill="#6e6e6e"/>
<polygon points="442.9,458.23 447.7,458.23 445.3,462.43" fill="#6e6e6e"/>
<polygon points="452.54,464.62 457.34,464.62 454.94,468.82" fill="#6e6e6e"/>
<polygon points="462.18,462.74 466.97,462.74 464.57,466.94" fill="#6e6e6e"/>
<polygon points="471.81,470.64 476.61,470.64 474.21,474.84" fill="#6e6e6e"/>
<polygon points="481.44,484.18 486.24,484.18 483.84,488.38" fill="#6e6e6e"/>
<polygon points="491.08,488.65 495.88,488.65 493.48,492.85" fill="#6e6e6e"/>
<circle cx="406.96" cy="490.45" r="1.88" fill="#6e6e6e"/>
<circle cx="416.4" cy="441.23" r="1.88" fill="#6e6e6e"/>
<circle cx="426.03" cy="450.63" r="1.88" fill="#6e6e6e"/>
<circle cx="435.67" cy="457.02" r="1.88" fill="#6e6e6e"/>
<circle cx="445.3" cy="467.93" r="1.88" fill="#6e6e6e"/>
<circle cx="454.94" cy="481.46" r="1.88" fill="#6e6e6e"/>
<circle cx="464.57" cy="490.45" r="1.88" fill="#6e6e6e"/>
<circle cx="474.21" cy="490.45" r="1.88" fill="#6e6e6e"/>
<polygon points="404.56,492.25 409.36,492.25 406.96,488.05" fill="#6e6e6e"/>
<polygon points="414,460.33 418.8,460.33 416.4,456.13" fill="#6e6e6e"/>
<polygon points="423.63,461.46 428.43,461.46 426.03,457.26" fill="#6e6e6e"/>
<polygon points="433.27,470.86 438.07,470.86 435.67,466.66" fill="#6e6e6e"/>
<polygon points="442.9,474.99 447.7,474.99 445.3,470.79" fill="#6e6e6e"/>
<polygon points="452.54,483.64 457.34,483.64 454.94,479.44" fill="#6e6e6e"/>
<polygon points="462.18,488.53 466.97,488.53 464.57,484.33" fill="#6e6e6e"/>
<polygon points="471.81,492.25 476.61,492.25 474.21,488.05" fill="#6e6e6e"/>
<polygon points="406.96,488.77 408.64,490.45 406.96,492.13 405.28,490.45" fill="#6e6e6e"/>
<polygon points="416.4,430.15 418.08,431.83 416.4,433.51 414.72,431.83" fill="#6e6e6e"/>
<polygon points="426.03,439.93 427.71,441.61 426.03,443.29 424.35,441.61" fill="#6e6e6e"/>
<polygon points="435.67,447.45 437.35,449.13 435.67,450.81 433.99,449.13" fill="#6e6e6e"/>
<polygon points="445.3,460.23 446.98,461.91 445.3,463.59 443.62,461.91" fill="#6e6e6e"/>
<polygon points="454.94,468.88 456.62,470.56 454.94,472.24 453.26,470.56" fill="#6e6e6e"/>
<polygon points="464.57,476.78 466.25,478.46 464.57,480.14 462.89,478.46" fill="#6e6e6e"/>
<polygon points="474.21,488.77 475.89,490.45 474.21,492.13 472.53,490.45" fill="#6e6e6e"/>
<line x1="618.8" y1="397.3" x2="633.4" y2="397.3" stroke="#777" stroke-width="1"/>
<circle cx="626.1" cy="397.3" r="2.07" fill="#6e6e6e"/>
<text x="638.5" y="400.5" font-size="8.75" fill="#1a1a1a" color="#1a1a1a">07-155</text>
<line x1="618.8" y1="411.75" x2="633.4" y2="411.75" stroke="#777" stroke-width="1"/>
<rect x="623.94" y="409.59" width="4.31" height="4.31" fill="#6e6e6e"/>
<text x="638.5" y="414.95" font-size="8.75" fill="#1a1a1a" color="#1a1a1a">RQ-8011</text>
<line x1="618.8" y1="426.2" x2="633.4" y2="426.2" stroke="#777" stroke-width="1"/>
<polygon points="623.46,424.22 628.74,424.22 626.1,428.84" fill="#6e6e6e"/>
<text x="638.5" y="429.4" font-size="8.75" fill="#1a1a1a" color="#1a1a1a">RQ-8428</text>
<line x1="618.8" y1="440.65" x2="633.4" y2="440.65" stroke="#777" stroke-width="1"/>
<polygon points="623.46,442.63 628.74,442.63 626.1,438.01" fill="#6e6e6e"/>
<text x="638.5" y="443.85" font-size="8.75" fill="#1a1a1a" color="#1a1a1a">RQ-8944</text>
<line x1="618.8" y1="455.1" x2="633.4" y2="455.1" stroke="#777" stroke-width="1"/>
<polygon points="626.1,452.37 626.82,454.11 628.69,454.26 627.27,455.48 627.7,457.31 626.1,456.33 624.5,457.31 624.93,455.48 623.51,454.26 625.38,454.11" fill="#6e6e6e"/>
<text x="638.5" y="458.3" font-size="8.75" fill="#1a1a1a" color="#1a1a1a">RQ-9200</text>
<line x1="618.8" y1="469.55" x2="633.4" y2="469.55" stroke="#777" stroke-width="1"/>
<polygon points="626.1,467.7 627.95,469.55 626.1,471.4 624.25,469.55" fill="#6e6e6e"/>
<text x="638.5" y="472.75" font-size="8.75" fill="#1a1a1a" color="#1a1a1a">RQ-9207</text>
<text x="355.6" y="586.1" font-size="16.5" fill="#000000" color="#000000" font-weight="bold">h</text>
<rect x="407" y="591.4" width="161.3" height="132.6" fill="none" stroke="#000000" stroke-width="1.6"/>
<line x1="514.8" y1="591.4" x2="514.8" y2="724" stroke="#000000" stroke-width="1.6"/>
<line x1="403" y1="724" x2="407" y2="724" stroke="#000000" stroke-width="1.3"/>
<text x="398.3" y="727.7" font-size="10.6" fill="#1a1a1a" color="#1a1a1a" text-anchor="end">0.0</text>
<line x1="404.7" y1="710.74" x2="407" y2="710.74" stroke="#000000" stroke-width="1.3"/>
<line x1="403" y1="697.48" x2="407" y2="697.48" stroke="#000000" stroke-width="1.3"/>
<text x="398.3" y="701.18" font-size="10.6" fill="#1a1a1a" color="#1a1a1a" text-anchor="end">0.2</text>
<line x1="404.7" y1="684.22" x2="407" y2="684.22" stroke="#000000" stroke-width="1.3"/>
<line x1="403" y1="670.96" x2="407" y2="670.96" stroke="#000000" stroke-width="1.3"/>
<text x="398.3" y="674.66" font-size="10.6" fill="#1a1a1a" color="#1a1a1a" text-anchor="end">0.4</text>
<line x1="404.7" y1="657.7" x2="407" y2="657.7" stroke="#000000" stroke-width="1.3"/>
<line x1="403" y1="644.44" x2="407" y2="644.44" stroke="#000000" stroke-width="1.3"/>
<text x="398.3" y="648.14" font-size="10.6" fill="#1a1a1a" color="#1a1a1a" text-anchor="end">0.6</text>
<line x1="404.7" y1="631.18" x2="407" y2="631.18" stroke="#000000" stroke-width="1.3"/>
<line x1="403" y1="617.92" x2="407" y2="617.92" stroke="#000000" stroke-width="1.3"/>
<text x="398.3" y="621.62" font-size="10.6" fill="#1a1a1a" color="#1a1a1a" text-anchor="end">0.8</text>
<line x1="404.7" y1="604.66" x2="407" y2="604.66" stroke="#000000" stroke-width="1.3"/>
<line x1="403" y1="591.4" x2="407" y2="591.4" stroke="#000000" stroke-width="1.3"/>
<text x="398.3" y="595.1" font-size="10.6" fill="#1a1a1a" color="#1a1a1a" text-anchor="end">1.0</text>
<text transform="translate(369.9,657.7) rotate(-90)" font-size="10.75" fill="#1a1a1a" color="#1a1a1a" text-anchor="middle">bNAb (µg ml<tspan font-size="7.6" dy="-4.6">−1</tspan><tspan dy="4.6">)</tspan></text>
<text x="460.2" y="603.4" font-size="8.6" fill="#ff0000" color="#ff0000" style="stroke-width:0.06px" text-anchor="middle">Group-1</text>
<text x="540.4" y="603.7" font-size="8.6" fill="#0000ff" color="#0000ff" style="stroke-width:0.06px" text-anchor="middle">Group-2</text>
<text x="573.9" y="604.7" font-size="8.6" fill="#1a1a1a" color="#1a1a1a" font-weight="bold">10-1074</text>
<text x="573.9" y="617.4" font-size="8.6" fill="#8a8a8a" color="#8a8a8a" style="stroke-width:0.06px">3BNC117</text>
<text x="487.6" y="737.8" font-size="10.4" fill="#1a1a1a" color="#1a1a1a" text-anchor="middle">SHIV</text>
<text x="487.6" y="750.7" font-size="10.5" fill="#1a1a1a" color="#1a1a1a" text-anchor="middle">Breakthrough</text>
<line x1="409" y1="692.57" x2="566" y2="692.57" stroke="#8a8a8a" stroke-width="1.2" stroke-dasharray="1.4,2.8"/>
<line x1="409" y1="716.04" x2="566" y2="716.04" stroke="#222" stroke-width="1.3" stroke-dasharray="1.4,2.8"/>
<line x1="417.4" y1="710.74" x2="448.8" y2="710.74" stroke="#000000" stroke-width="1.5"/>
<polygon points="430.14,686.74 436.86,686.74 433.5,680.86" fill="#000000"/>
<circle cx="433.5" cy="697.48" r="3.01" fill="#000000"/>
<rect x="424.36" y="707.9" width="5.68" height="5.68" fill="#000000"/>
<polygon points="431.04,708.22 437.76,708.22 434.4,714.1" fill="#000000"/>
<polygon points="440.4,707.42 443.72,710.74 440.4,714.06 437.08,710.74" fill="#000000"/>
<line x1="466" y1="717.37" x2="506" y2="717.37" stroke="#7a7a7a" stroke-width="1.5"/>
<circle cx="473" cy="717.37" r="1.97" fill="#7a7a7a"/>
<rect x="476.14" y="715.31" width="4.12" height="4.12" fill="#7a7a7a"/>
<rect x="481.34" y="715.31" width="4.12" height="4.12" fill="#7a7a7a"/>
<polygon points="486.08,715.48 491.12,715.48 488.6,719.89" fill="#7a7a7a"/>
<polygon points="491.28,719.26 496.32,719.26 493.8,714.85" fill="#7a7a7a"/>
<polygon points="499,715.61 500.76,717.37 499,719.13 497.24,717.37" fill="#7a7a7a"/>
<polygon points="501.68,715.48 506.72,715.48 504.2,719.89" fill="#7a7a7a"/>
<line x1="524.5" y1="657.7" x2="556" y2="657.7" stroke="#7a7a7a" stroke-width="1.5"/>
<polygon points="540.9,614.32 541.85,616.61 544.32,616.81 542.44,618.42 543.01,620.83 540.9,619.54 538.79,620.83 539.36,618.42 537.48,616.81 539.95,616.61" fill="#7a7a7a"/>
<polygon points="537.54,628.66 544.26,628.66 540.9,634.54" fill="#7a7a7a"/>
<rect x="538.16" y="641.7" width="5.49" height="5.49" fill="#7a7a7a"/>
<circle cx="536.7" cy="670.96" r="3.01" fill="#7a7a7a"/>
<polygon points="542.02,673.57 548.98,673.57 545.5,667.48" fill="#7a7a7a"/>
<polygon points="540.9,688.23 544.85,692.18 540.9,696.12 536.95,692.18" fill="#7a7a7a"/>
</svg></div></body></html>
